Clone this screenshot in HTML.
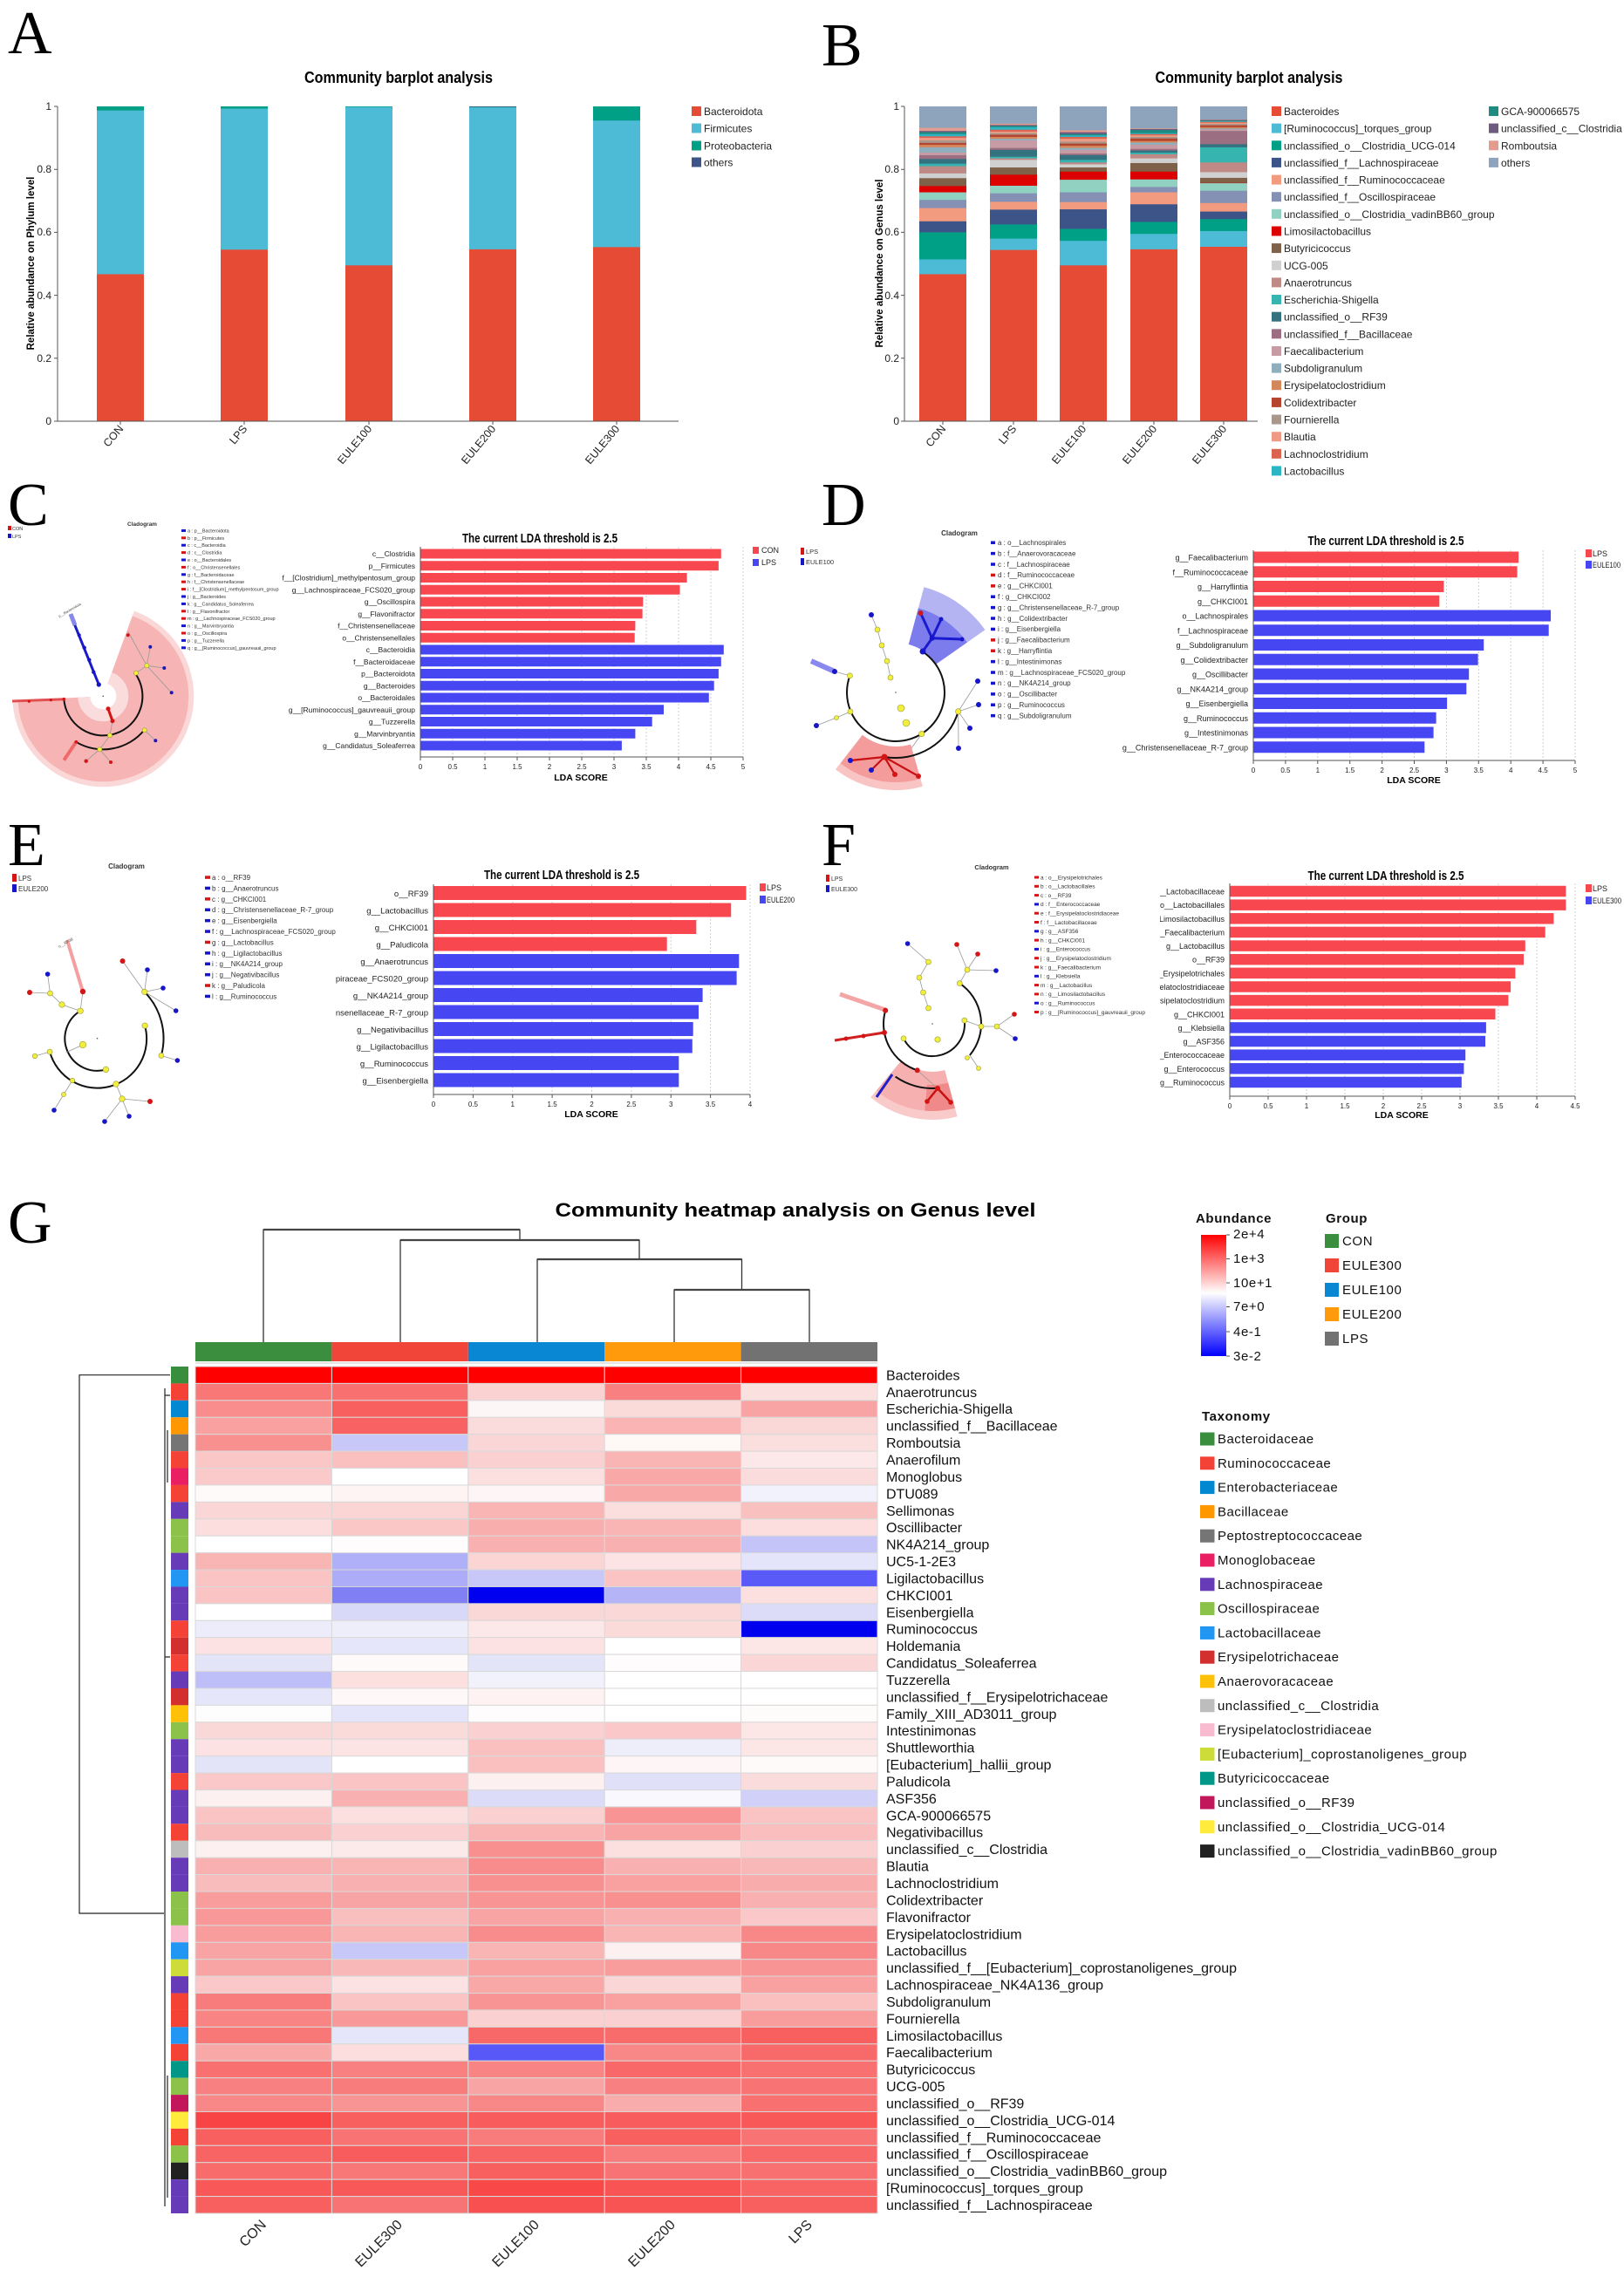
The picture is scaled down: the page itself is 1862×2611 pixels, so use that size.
<!DOCTYPE html>
<html><head><meta charset="utf-8">
<style>
html,body{margin:0;padding:0;background:#fff;}
svg{display:block;}
.n{font-family:"Liberation Sans Narrow","Liberation Sans",Arial,sans-serif;}
.a{font-family:"Liberation Sans",Arial,sans-serif;}
.t{font-family:"Liberation Serif","Times New Roman",serif;}
.c{stroke:#d9d9d9;stroke-width:1;}
.gl{stroke:#cfcfcf;stroke-width:1;stroke-dasharray:2,2;}
.ax{stroke:#555;stroke-width:1;fill:none;}
.ln{stroke:#999;stroke-width:0.8;fill:none;}
.arc{stroke:#111;stroke-width:2;fill:none;}
.yn{fill:#F2EE3C;stroke:#9a9a40;stroke-width:0.6;}
.rn{fill:#D41515;}
.bn{fill:#1616C8;}
.R{fill:#F94750;}
.B{fill:#4646F2;}
</style></head>
<body>
<svg width="1862" height="2611" viewBox="0 0 1862 2611" xmlns="http://www.w3.org/2000/svg">
<rect width="1862" height="2611" fill="#fff"/>

<!-- ===================== Panel labels ===================== -->
<g class="t" font-size="70" fill="#000">
<text x="9" y="61">A</text>
<text x="942" y="75">B</text>
<text x="9" y="602">C</text>
<text x="942" y="602">D</text>
<text x="9" y="992">E</text>
<text x="942" y="992">F</text>
<text x="9" y="1425">G</text>
</g>

<!-- ===================== Panel A ===================== -->
<text x="457" y="95" text-anchor="middle" class="n" font-weight="bold" font-size="18" textLength="216" lengthAdjust="spacingAndGlyphs">Community barplot analysis</text>
<text transform="translate(39,302) rotate(-90)" text-anchor="middle" class="a" font-weight="bold" font-size="11.5">Relative abundance on Phylum level</text>
<g>
<g transform="translate(111,483) scale(1,-361)"><rect width="54" height="1" fill="#00A087"/><rect width="54" height="0.987" fill="#4DBBD5"/><rect width="54" height="0.467" fill="#E64B35"/></g>
<g transform="translate(253,483) scale(1,-361)"><rect width="54" height="1" fill="#00A087"/><rect width="54" height="0.993" fill="#4DBBD5"/><rect width="54" height="0.545" fill="#E64B35"/></g>
<g transform="translate(396,483) scale(1,-361)"><rect width="54" height="1" fill="#00A087"/><rect width="54" height="0.998" fill="#4DBBD5"/><rect width="54" height="0.495" fill="#E64B35"/></g>
<g transform="translate(538,483) scale(1,-361)"><rect width="54" height="1" fill="#3C5488"/><rect width="54" height="0.998" fill="#00A087"/><rect width="54" height="0.997" fill="#4DBBD5"/><rect width="54" height="0.546" fill="#E64B35"/></g>
<g transform="translate(680,483) scale(1,-361)"><rect width="54" height="1" fill="#00A087"/><rect width="54" height="0.955" fill="#4DBBD5"/><rect width="54" height="0.553" fill="#E64B35"/></g>
</g>
<path class="ax" d="M66,122 V483 M63,483 H778"/>
<path class="ax" d="M62,122H66M62,194.2H66M62,266.4H66M62,338.6H66M62,410.8H66M62,483H66 M138,483V487M280,483V487M423,483V487M565,483V487M707,483V487"/>
<g class="n" font-size="12" fill="#222" text-anchor="end">
<text x="59" y="126">1</text><text x="59" y="198">0.8</text><text x="59" y="270">0.6</text><text x="59" y="343">0.4</text><text x="59" y="415">0.2</text><text x="59" y="487">0</text>
</g>
<g class="n" font-size="12.5" fill="#222" text-anchor="end">
<text transform="translate(142,492) rotate(-50)">CON</text>
<text transform="translate(284,492) rotate(-50)">LPS</text>
<text transform="translate(427,492) rotate(-50)">EULE100</text>
<text transform="translate(569,492) rotate(-50)">EULE200</text>
<text transform="translate(711,492) rotate(-50)">EULE300</text>
</g>
<g class="n" font-size="12" fill="#222">
<rect x="793" y="122" width="11" height="11" fill="#E64B35"/><text x="807" y="132">Bacteroidota</text>
<rect x="793" y="141.5" width="11" height="11" fill="#4DBBD5"/><text x="807" y="151.5">Firmicutes</text>
<rect x="793" y="161.5" width="11" height="11" fill="#00A087"/><text x="807" y="171.5">Proteobacteria</text>
<rect x="793" y="180.5" width="11" height="11" fill="#3C5488"/><text x="807" y="190.5">others</text>
</g>

<!-- ===================== Panel B ===================== -->
<text x="1432" y="95" text-anchor="middle" class="n" font-weight="bold" font-size="18" textLength="215" lengthAdjust="spacingAndGlyphs">Community barplot analysis</text>
<text transform="translate(1012,302) rotate(-90)" text-anchor="middle" class="a" font-weight="bold" font-size="11.5">Relative abundance on Genus level</text>
<g transform="translate(1054,483) scale(1,-361)">
<rect width="54" height="1" fill="#8EA3BC"/><rect width="54" height="0.932" fill="#E49C8E"/><rect width="54" height="0.922" fill="#6E5C80"/><rect width="54" height="0.918" fill="#1E8C80"/><rect width="54" height="0.912" fill="#2BB5C4"/><rect width="54" height="0.905" fill="#DA6450"/><rect width="54" height="0.900" fill="#EE9A85"/><rect width="54" height="0.892" fill="#A8978A"/><rect width="54" height="0.884" fill="#B5452E"/><rect width="54" height="0.878" fill="#D4875A"/><rect width="54" height="0.870" fill="#8FAFBE"/><rect width="54" height="0.853" fill="#C79BA4"/><rect width="54" height="0.845" fill="#9B6E82"/><rect width="54" height="0.833" fill="#35727F"/><rect width="54" height="0.818" fill="#36B4B0"/><rect width="54" height="0.810" fill="#BF8A86"/><rect width="54" height="0.787" fill="#D0D0D0"/><rect width="54" height="0.772" fill="#7E6148"/><rect width="54" height="0.747" fill="#DC0000"/><rect width="54" height="0.727" fill="#91D1C2"/><rect width="54" height="0.703" fill="#8491B4"/><rect width="54" height="0.677" fill="#F39B7F"/><rect width="54" height="0.635" fill="#3C5488"/><rect width="54" height="0.600" fill="#00A087"/><rect width="54" height="0.514" fill="#4DBBD5"/><rect width="54" height="0.467" fill="#E64B35"/>
</g>
<g transform="translate(1135,483) scale(1,-361)">
<rect width="54" height="1" fill="#8EA3BC"/><rect width="54" height="0.945" fill="#E49C8E"/><rect width="54" height="0.941" fill="#6E5C80"/><rect width="54" height="0.938" fill="#1E8C80"/><rect width="54" height="0.934" fill="#2BB5C4"/><rect width="54" height="0.926" fill="#DA6450"/><rect width="54" height="0.920" fill="#EE9A85"/><rect width="54" height="0.915" fill="#A8978A"/><rect width="54" height="0.910" fill="#B5452E"/><rect width="54" height="0.903" fill="#D4875A"/><rect width="54" height="0.897" fill="#8FAFBE"/><rect width="54" height="0.892" fill="#C79BA4"/><rect width="54" height="0.868" fill="#9B6E82"/><rect width="54" height="0.862" fill="#35727F"/><rect width="54" height="0.840" fill="#36B4B0"/><rect width="54" height="0.835" fill="#BF8A86"/><rect width="54" height="0.830" fill="#D0D0D0"/><rect width="54" height="0.806" fill="#7E6148"/><rect width="54" height="0.783" fill="#DC0000"/><rect width="54" height="0.748" fill="#91D1C2"/><rect width="54" height="0.724" fill="#8491B4"/><rect width="54" height="0.697" fill="#F39B7F"/><rect width="54" height="0.672" fill="#3C5488"/><rect width="54" height="0.625" fill="#00A087"/><rect width="54" height="0.580" fill="#4DBBD5"/><rect width="54" height="0.544" fill="#E64B35"/>
</g>
<g transform="translate(1215,483) scale(1,-361)">
<rect width="54" height="1" fill="#8EA3BC"/><rect width="54" height="0.924" fill="#E49C8E"/><rect width="54" height="0.918" fill="#6E5C80"/><rect width="54" height="0.912" fill="#1E8C80"/><rect width="54" height="0.908" fill="#2BB5C4"/><rect width="54" height="0.903" fill="#DA6450"/><rect width="54" height="0.897" fill="#EE9A85"/><rect width="54" height="0.888" fill="#A8978A"/><rect width="54" height="0.882" fill="#B5452E"/><rect width="54" height="0.875" fill="#D4875A"/><rect width="54" height="0.868" fill="#8FAFBE"/><rect width="54" height="0.862" fill="#C79BA4"/><rect width="54" height="0.850" fill="#9B6E82"/><rect width="54" height="0.845" fill="#35727F"/><rect width="54" height="0.830" fill="#36B4B0"/><rect width="54" height="0.822" fill="#BF8A86"/><rect width="54" height="0.816" fill="#D0D0D0"/><rect width="54" height="0.806" fill="#7E6148"/><rect width="54" height="0.793" fill="#DC0000"/><rect width="54" height="0.767" fill="#91D1C2"/><rect width="54" height="0.727" fill="#8491B4"/><rect width="54" height="0.696" fill="#F39B7F"/><rect width="54" height="0.673" fill="#3C5488"/><rect width="54" height="0.611" fill="#00A087"/><rect width="54" height="0.573" fill="#4DBBD5"/><rect width="54" height="0.495" fill="#E64B35"/>
</g>
<g transform="translate(1296,483) scale(1,-361)">
<rect width="54" height="1" fill="#8EA3BC"/><rect width="54" height="0.930" fill="#E49C8E"/><rect width="54" height="0.928" fill="#6E5C80"/><rect width="54" height="0.925" fill="#1E8C80"/><rect width="54" height="0.915" fill="#2BB5C4"/><rect width="54" height="0.912" fill="#DA6450"/><rect width="54" height="0.908" fill="#EE9A85"/><rect width="54" height="0.903" fill="#A8978A"/><rect width="54" height="0.898" fill="#B5452E"/><rect width="54" height="0.890" fill="#D4875A"/><rect width="54" height="0.885" fill="#8FAFBE"/><rect width="54" height="0.878" fill="#C79BA4"/><rect width="54" height="0.865" fill="#9B6E82"/><rect width="54" height="0.860" fill="#35727F"/><rect width="54" height="0.853" fill="#36B4B0"/><rect width="54" height="0.848" fill="#BF8A86"/><rect width="54" height="0.835" fill="#D0D0D0"/><rect width="54" height="0.820" fill="#7E6148"/><rect width="54" height="0.793" fill="#DC0000"/><rect width="54" height="0.768" fill="#91D1C2"/><rect width="54" height="0.744" fill="#8491B4"/><rect width="54" height="0.727" fill="#F39B7F"/><rect width="54" height="0.689" fill="#3C5488"/><rect width="54" height="0.633" fill="#00A087"/><rect width="54" height="0.595" fill="#4DBBD5"/><rect width="54" height="0.546" fill="#E64B35"/>
</g>
<g transform="translate(1376,483) scale(1,-361)">
<rect width="54" height="1" fill="#8EA3BC"/><rect width="54" height="0.958" fill="#E49C8E"/><rect width="54" height="0.957" fill="#6E5C80"/><rect width="54" height="0.955" fill="#1E8C80"/><rect width="54" height="0.953" fill="#2BB5C4"/><rect width="54" height="0.951" fill="#DA6450"/><rect width="54" height="0.948" fill="#EE9A85"/><rect width="54" height="0.944" fill="#A8978A"/><rect width="54" height="0.940" fill="#B5452E"/><rect width="54" height="0.934" fill="#D4875A"/><rect width="54" height="0.930" fill="#8FAFBE"/><rect width="54" height="0.927" fill="#C79BA4"/><rect width="54" height="0.922" fill="#9B6E82"/><rect width="54" height="0.880" fill="#35727F"/><rect width="54" height="0.870" fill="#36B4B0"/><rect width="54" height="0.822" fill="#BF8A86"/><rect width="54" height="0.791" fill="#D0D0D0"/><rect width="54" height="0.773" fill="#7E6148"/><rect width="54" height="0.757" fill="#DC0000"/><rect width="54" height="0.756" fill="#91D1C2"/><rect width="54" height="0.732" fill="#8491B4"/><rect width="54" height="0.693" fill="#F39B7F"/><rect width="54" height="0.666" fill="#3C5488"/><rect width="54" height="0.642" fill="#00A087"/><rect width="54" height="0.604" fill="#4DBBD5"/><rect width="54" height="0.554" fill="#E64B35"/>
</g>
<path class="ax" d="M1037,122 V483 M1034,483 H1442"/>
<path class="ax" d="M1033,122H1037M1033,194.2H1037M1033,266.4H1037M1033,338.6H1037M1033,410.8H1037M1033,483H1037 M1081,483V487M1162,483V487M1242,483V487M1323,483V487M1403,483V487"/>
<g class="n" font-size="12" fill="#222" text-anchor="end">
<text x="1031" y="126">1</text><text x="1031" y="198">0.8</text><text x="1031" y="270">0.6</text><text x="1031" y="343">0.4</text><text x="1031" y="415">0.2</text><text x="1031" y="487">0</text>
</g>
<g class="n" font-size="12.5" fill="#222" text-anchor="end">
<text transform="translate(1085,492) rotate(-50)">CON</text>
<text transform="translate(1166,492) rotate(-50)">LPS</text>
<text transform="translate(1246,492) rotate(-50)">EULE100</text>
<text transform="translate(1327,492) rotate(-50)">EULE200</text>
<text transform="translate(1407,492) rotate(-50)">EULE300</text>
</g>
<g class="n" font-size="12" fill="#222">
<rect x="1458" y="122" width="11" height="11" fill="#E64B35"/><text x="1472" y="132">Bacteroides</text>
<rect x="1458" y="141.6" width="11" height="11" fill="#4DBBD5"/><text x="1472" y="151.6">[Ruminococcus]_torques_group</text>
<rect x="1458" y="161.3" width="11" height="11" fill="#00A087"/><text x="1472" y="171.3">unclassified_o__Clostridia_UCG-014</text>
<rect x="1458" y="180.9" width="11" height="11" fill="#3C5488"/><text x="1472" y="190.9">unclassified_f__Lachnospiraceae</text>
<rect x="1458" y="200.6" width="11" height="11" fill="#F39B7F"/><text x="1472" y="210.6">unclassified_f__Ruminococcaceae</text>
<rect x="1458" y="220.2" width="11" height="11" fill="#8491B4"/><text x="1472" y="230.2">unclassified_f__Oscillospiraceae</text>
<rect x="1458" y="239.8" width="11" height="11" fill="#91D1C2"/><text x="1472" y="249.8">unclassified_o__Clostridia_vadinBB60_group</text>
<rect x="1458" y="259.5" width="11" height="11" fill="#DC0000"/><text x="1472" y="269.5">Limosilactobacillus</text>
<rect x="1458" y="279.1" width="11" height="11" fill="#7E6148"/><text x="1472" y="289.1">Butyricicoccus</text>
<rect x="1458" y="298.8" width="11" height="11" fill="#D0D0D0"/><text x="1472" y="308.8">UCG-005</text>
<rect x="1458" y="318.4" width="11" height="11" fill="#BF8A86"/><text x="1472" y="328.4">Anaerotruncus</text>
<rect x="1458" y="338" width="11" height="11" fill="#36B4B0"/><text x="1472" y="348">Escherichia-Shigella</text>
<rect x="1458" y="357.7" width="11" height="11" fill="#35727F"/><text x="1472" y="367.7">unclassified_o__RF39</text>
<rect x="1458" y="377.3" width="11" height="11" fill="#9B6E82"/><text x="1472" y="387.3">unclassified_f__Bacillaceae</text>
<rect x="1458" y="397" width="11" height="11" fill="#C79BA4"/><text x="1472" y="407">Faecalibacterium</text>
<rect x="1458" y="416.6" width="11" height="11" fill="#8FAFBE"/><text x="1472" y="426.6">Subdoligranulum</text>
<rect x="1458" y="436.2" width="11" height="11" fill="#D4875A"/><text x="1472" y="446.2">Erysipelatoclostridium</text>
<rect x="1458" y="455.9" width="11" height="11" fill="#B5452E"/><text x="1472" y="465.9">Colidextribacter</text>
<rect x="1458" y="475.5" width="11" height="11" fill="#A8978A"/><text x="1472" y="485.5">Fournierella</text>
<rect x="1458" y="495.2" width="11" height="11" fill="#EE9A85"/><text x="1472" y="505.2">Blautia</text>
<rect x="1458" y="514.8" width="11" height="11" fill="#DA6450"/><text x="1472" y="524.8">Lachnoclostridium</text>
<rect x="1458" y="534.4" width="11" height="11" fill="#2BB5C4"/><text x="1472" y="544.4">Lactobacillus</text>
<rect x="1707" y="122" width="11" height="11" fill="#1E8C80"/><text x="1721" y="132">GCA-900066575</text>
<rect x="1707" y="141.6" width="11" height="11" fill="#6E5C80"/><text x="1721" y="151.6">unclassified_c__Clostridia</text>
<rect x="1707" y="161.3" width="11" height="11" fill="#E49C8E"/><text x="1721" y="171.3">Romboutsia</text>
<rect x="1707" y="180.9" width="11" height="11" fill="#8EA3BC"/><text x="1721" y="190.9">others</text>
</g>

<!-- ===================== Panel C cladogram ===================== -->
<g class="n" font-size="5.5" fill="#333">
<rect x="9" y="603" width="4" height="5" fill="#D41515"/><text x="14" y="608">CON</text>
<rect x="9" y="612" width="4" height="5" fill="#1616C8"/><text x="14" y="617">LPS</text>
<text x="163" y="603" text-anchor="middle" font-weight="bold" font-size="6.5">Cladogram</text>
</g>
<g class="n" font-size="5.5" fill="#333">
<rect x="208" y="607" width="5" height="3" class="bn"/><text x="215" y="610.4">a : p__Bacteroidota</text>
<rect x="208" y="615.3" width="5" height="3" class="rn"/><text x="215" y="618.8">b : p__Firmicutes</text>
<rect x="208" y="623.7" width="5" height="3" class="bn"/><text x="215" y="627.2">c : c__Bacteroidia</text>
<rect x="208" y="632.1" width="5" height="3" class="rn"/><text x="215" y="635.6">d : c__Clostridia</text>
<rect x="208" y="640.5" width="5" height="3" class="bn"/><text x="215" y="644">e : o__Bacteroidales</text>
<rect x="208" y="648.9" width="5" height="3" class="rn"/><text x="215" y="652.4">f : o__Christensenellales</text>
<rect x="208" y="657.3" width="5" height="3" class="bn"/><text x="215" y="660.8">g : f__Bacteroidaceae</text>
<rect x="208" y="665.7" width="5" height="3" class="rn"/><text x="215" y="669.2">h : f__Christensenellaceae</text>
<rect x="208" y="674.1" width="5" height="3" class="rn"/><text x="215" y="677.6">i : f__[Clostridium]_methylpentosum_group</text>
<rect x="208" y="682.5" width="5" height="3" class="bn"/><text x="215" y="686">j : g__Bacteroides</text>
<rect x="208" y="690.9" width="5" height="3" class="bn"/><text x="215" y="694.4">k : g__Candidatus_Soleaferrea</text>
<rect x="208" y="699.3" width="5" height="3" class="rn"/><text x="215" y="702.8">l : g__Flavonifractor</text>
<rect x="208" y="707.7" width="5" height="3" class="rn"/><text x="215" y="711.2">m : g__Lachnospiraceae_FCS020_group</text>
<rect x="208" y="716.1" width="5" height="3" class="bn"/><text x="215" y="719.6">n : g__Marvinbryantia</text>
<rect x="208" y="724.5" width="5" height="3" class="rn"/><text x="215" y="728">o : g__Oscillospira</text>
<rect x="208" y="732.9" width="5" height="3" class="bn"/><text x="215" y="736.4">p : g__Tuzzerella</text>
<rect x="208" y="741.3" width="5" height="3" class="bn"/><text x="215" y="744.8">q : g__[Ruminococcus]_gauvreauii_group</text>
</g>
<g>
<path d="M118.3,798.3 L153.9,700.6 A104,104 0 1 1 14.4,803.7 Z" fill="#FAD8D8"/>
<path d="M118.3,798.3 L151.8,706.2 A98,98 0 1 1 20.4,803.4 Z" fill="#F7B4B4"/>
<path d="M118.3,798.3 L128.2,771.0 A29,29 0 1 1 89.3,799.8 Z" fill="#FBDCDC"/>
<circle cx="118.3" cy="798.3" r="15" fill="#fff"/>
<path d="M73.3,801.7 L14,804" stroke="#E05050" stroke-width="3"/>
<path d="M113.3,785 L81.7,706.7" stroke="#1A1AC8" stroke-width="3"/>
<path d="M86,717 L81,704" stroke="#8888E8" stroke-width="5"/>
<path class="arc" d="M155.2,772.4 A45.1,45.1 0 1 1 73.3,801.4"/>
<path class="arc" d="M165.4,837.1 A61,61 0 0 1 87.2,850.8"/>
<path class="ln" d="M129,826.7L126,843.3L114.3,859.3L98.7,872.7M114.3,859.3L127,874M156,771.7L168.3,763.3L146.7,724M168.3,763.3L172.3,741.7M168.3,763.3L188.3,766M168.3,763.3L196.7,794.3M165.7,837.3L178.3,849.3"/>
<path d="M124,812.7L129,826.7" stroke="#D41515" stroke-width="3"/>
<path d="M87.3,850.7L73.3,871.7" stroke="#F06868" stroke-width="4"/>
<g class="yn"><circle cx="126" cy="843.3" r="2.6"/><circle cx="156" cy="771.7" r="2.6"/><circle cx="168.3" cy="763.3" r="2.6"/><circle cx="114.3" cy="859.3" r="2.6"/><circle cx="165.7" cy="837.3" r="2.6"/></g>
<g class="rn"><circle cx="124" cy="812.7" r="2.5"/><circle cx="129" cy="826.7" r="2.5"/><circle cx="146.7" cy="728.3" r="2"/><circle cx="98.7" cy="872.7" r="2.2"/><circle cx="127" cy="874" r="2"/><circle cx="73.3" cy="801.7" r="1.8"/><circle cx="58.3" cy="802.7" r="1.6"/><circle cx="33.3" cy="804.3" r="1.6"/><circle cx="87.3" cy="850.7" r="1.8"/></g>
<g class="bn"><circle cx="113.3" cy="785" r="2.6"/><circle cx="107.3" cy="770.7" r="2.2"/><circle cx="102.3" cy="756.7" r="2.2"/><circle cx="96.7" cy="742.7" r="2.2"/><circle cx="90.7" cy="728.3" r="2"/><circle cx="172.3" cy="741.7" r="2"/><circle cx="188.3" cy="766" r="2"/><circle cx="196.7" cy="794.3" r="2"/><circle cx="178.3" cy="849.3" r="2"/></g>
<circle cx="118.3" cy="798.3" r="0.8" fill="#555"/>
<text transform="translate(68,708) rotate(-30)" class="n" font-size="4" fill="#444">p__Bacteroidota</text>
</g>

<!-- ===================== Panel C LDA ===================== -->
<g transform="translate(482,635)">
<text x="137" y="-13" text-anchor="middle" class="n" font-weight="bold" font-size="15" textLength="178" lengthAdjust="spacingAndGlyphs">The current LDA threshold is 2.5</text>
<path class="gl" d="M37,-8V231M74,-8V231M111,-8V231M148,-8V231M185,-8V231M222,-8V231M259,-8V231M296,-8V231M333,-8V231M370,-8V231"/>
<rect class="R" y="-5.5" width="344.8" height="11"/>
<rect class="R" y="8.25" width="341.9" height="11"/>
<rect class="R" y="22" width="305.6" height="11"/>
<rect class="R" y="35.75" width="297.5" height="11"/>
<rect class="R" y="49.5" width="255.3" height="11"/>
<rect class="R" y="63.25" width="254.6" height="11"/>
<rect class="R" y="77" width="246.4" height="11"/>
<rect class="R" y="90.75" width="245.7" height="11"/>
<rect class="B" y="104.5" width="347.8" height="11"/>
<rect class="B" y="118.25" width="344.8" height="11"/>
<rect class="B" y="132" width="341.9" height="11"/>
<rect class="B" y="145.75" width="336.7" height="11"/>
<rect class="B" y="159.5" width="330.8" height="11"/>
<rect class="B" y="173.25" width="279" height="11"/>
<rect class="B" y="187" width="265.7" height="11"/>
<rect class="B" y="200.75" width="246.4" height="11"/>
<rect class="B" y="214.5" width="230.9" height="11"/>
<path class="ax" d="M0,-8V233H370 M0,233v4M37,233v4M74,233v4M111,233v4M148,233v4M185,233v4M222,233v4M259,233v4M296,233v4M333,233v4M370,233v4"/>
<g class="n" font-size="8.5" fill="#222" text-anchor="end">
<text x="-6" y="3">c__Clostridia</text>
<text x="-6" y="16.75">p__Firmicutes</text>
<text x="-6" y="30.5">f__[Clostridium]_methylpentosum_group</text>
<text x="-6" y="44.25">g__Lachnospiraceae_FCS020_group</text>
<text x="-6" y="58">g__Oscillospira</text>
<text x="-6" y="71.75">g__Flavonifractor</text>
<text x="-6" y="85.5">f__Christensenellaceae</text>
<text x="-6" y="99.25">o__Christensenellales</text>
<text x="-6" y="113">c__Bacteroidia</text>
<text x="-6" y="126.75">f__Bacteroidaceae</text>
<text x="-6" y="140.5">p__Bacteroidota</text>
<text x="-6" y="154.25">g__Bacteroides</text>
<text x="-6" y="168">o__Bacteroidales</text>
<text x="-6" y="181.75">g__[Ruminococcus]_gauvreauii_group</text>
<text x="-6" y="195.5">g__Tuzzerella</text>
<text x="-6" y="209.25">g__Marvinbryantia</text>
<text x="-6" y="223">g__Candidatus_Soleaferrea</text>
</g>
<g class="n" font-size="8" fill="#222" text-anchor="middle">
<text x="0" y="247">0</text><text x="37" y="247">0.5</text><text x="74" y="247">1</text><text x="111" y="247">1.5</text><text x="148" y="247">2</text><text x="185" y="247">2.5</text><text x="222" y="247">3</text><text x="259" y="247">3.5</text><text x="296" y="247">4</text><text x="333" y="247">4.5</text><text x="370" y="247">5</text>
</g>
<text x="184" y="260" text-anchor="middle" class="n" font-weight="bold" font-size="10.5">LDA SCORE</text>
<rect x="381" y="-8" width="7" height="8" class="R"/><text x="391" y="-1" class="n" font-size="9" fill="#222">CON</text>
<rect x="381" y="6" width="7" height="8" class="B"/><text x="391" y="13" class="n" font-size="9" fill="#222">LPS</text>
</g>

<!-- ===================== Panel D cladogram ===================== -->
<g class="n" font-size="7.5" fill="#333">
<rect x="918" y="628" width="4" height="8" fill="#D41515"/><text x="924" y="635">LPS</text>
<rect x="918" y="640" width="4" height="8" fill="#1616C8"/><text x="924" y="647">EULE100</text>
<text x="1100" y="614" text-anchor="middle" font-weight="bold" font-size="8">Cladogram</text>
</g>
<g class="n" font-size="8" fill="#333">
<rect x="1136" y="620.5" width="5" height="3.5" class="bn"/><text x="1144" y="625">a : o__Lachnospirales</text>
<rect x="1136" y="632.9" width="5" height="3.5" class="bn"/><text x="1144" y="637.4">b : f__Anaerovoracaceae</text>
<rect x="1136" y="645.3" width="5" height="3.5" class="bn"/><text x="1144" y="649.8">c : f__Lachnospiraceae</text>
<rect x="1136" y="657.7" width="5" height="3.5" class="rn"/><text x="1144" y="662.2">d : f__Ruminococcaceae</text>
<rect x="1136" y="670.1" width="5" height="3.5" class="rn"/><text x="1144" y="674.6">e : g__CHKCI001</text>
<rect x="1136" y="682.5" width="5" height="3.5" class="bn"/><text x="1144" y="687">f : g__CHKCI002</text>
<rect x="1136" y="694.9" width="5" height="3.5" class="bn"/><text x="1144" y="699.4">g : g__Christensenellaceae_R-7_group</text>
<rect x="1136" y="707.3" width="5" height="3.5" class="bn"/><text x="1144" y="711.8">h : g__Colidextribacter</text>
<rect x="1136" y="719.7" width="5" height="3.5" class="bn"/><text x="1144" y="724.2">i : g__Eisenbergiella</text>
<rect x="1136" y="732.1" width="5" height="3.5" class="rn"/><text x="1144" y="736.6">j : g__Faecalibacterium</text>
<rect x="1136" y="744.5" width="5" height="3.5" class="rn"/><text x="1144" y="749">k : g__Harryflintia</text>
<rect x="1136" y="756.9" width="5" height="3.5" class="bn"/><text x="1144" y="761.4">l : g__Intestinimonas</text>
<rect x="1136" y="769.3" width="5" height="3.5" class="bn"/><text x="1144" y="773.8">m : g__Lachnospiraceae_FCS020_group</text>
<rect x="1136" y="781.7" width="5" height="3.5" class="bn"/><text x="1144" y="786.2">n : g__NK4A214_group</text>
<rect x="1136" y="794.1" width="5" height="3.5" class="bn"/><text x="1144" y="798.6">o : g__Oscillibacter</text>
<rect x="1136" y="806.5" width="5" height="3.5" class="bn"/><text x="1144" y="811">p : g__Ruminococcus</text>
<rect x="1136" y="818.9" width="5" height="3.5" class="bn"/><text x="1144" y="823.4">q : g__Subdoligranulum</text>
</g>
<g>
<path d="M1059.4,673.3 A125,125 0 0 1 1129.4,722.3 L1073.7,761.3 A57,57 0 0 0 1041.8,738.9 Z" fill="#B4B4F2"/>
<path d="M1052.9,697.4 A100,100 0 0 1 1108.9,736.6 L1073.7,761.3 A57,57 0 0 0 1041.8,738.9 Z" fill="#7C7CEC"/>
<path d="M1057.9,901.7 A112,112 0 0 1 958.0,882.3 L988.8,842.9 A62,62 0 0 0 1044.1,853.6 Z" fill="#F8C4C4"/>
<path d="M1055.4,893.0 A103,103 0 0 1 963.6,875.2 L988.8,842.9 A62,62 0 0 0 1044.1,853.6 Z" fill="#F49C9C"/>
<path d="M957,770 L930,758" stroke="#8888EE" stroke-width="6"/>
<path class="arc" d="M1057.5,747.0 A56,56 0 1 1 974.4,774.8"/>
<path class="arc" d="M1098.7,815.9 A75,75 0 0 1 1014.0,867.9"/>
<path d="M1058,747 L1068.7,731.7 L1055.5,703 M1068.7,731.7 L1079,710 M1068.7,731.7 L1103,733" stroke="#1A1AD0" stroke-width="3" fill="none"/>
<path d="M1014,868 L975,872 M1014,868 L999,883 M1014,868 L1026,888 M1014,868 L1053,890" stroke="#C81010" stroke-width="2.2" fill="none"/>
<path class="ln" d="M974.4,774.8 L957,770 M975,816 L959,823 L936,832 M999,705 L1006,722 L1011,740 L1017,758 L1021,777 M1098.7,815.9 L1121,781 M1098.7,815.9 L1122,808 M1098.7,815.9 L1112,835 M1098.7,815.9 L1099,858 M1056.7,841.5 L1045,858"/>
<g class="yn"><circle cx="974.4" cy="774.8" r="3"/><circle cx="975" cy="816" r="3"/><circle cx="959" cy="823" r="2.5"/><circle cx="1006" cy="722" r="3"/><circle cx="1011" cy="740" r="3"/><circle cx="1017" cy="758" r="3"/><circle cx="1021" cy="777" r="3"/><circle cx="1033" cy="812" r="4"/><circle cx="1039" cy="829" r="4"/><circle cx="1098.7" cy="815.9" r="3.2"/><circle cx="1056.7" cy="841.5" r="3.2"/></g>
<g class="bn"><circle cx="957" cy="770" r="3"/><circle cx="936" cy="832" r="3"/><circle cx="999" cy="705" r="3"/><circle cx="1058" cy="747" r="3.5"/><circle cx="1068.7" cy="731.7" r="3"/><circle cx="1079" cy="710" r="2.5"/><circle cx="1103" cy="733" r="2.5"/><circle cx="1121" cy="781" r="3"/><circle cx="1122" cy="808" r="3"/><circle cx="1112" cy="835" r="3"/><circle cx="1099" cy="858" r="3"/><circle cx="975" cy="872" r="3"/><circle cx="999" cy="883" r="3"/></g>
<g class="rn"><circle cx="1055.5" cy="703" r="3"/><circle cx="1014" cy="868" r="3.5"/><circle cx="1026" cy="888" r="3"/><circle cx="1053" cy="890" r="3"/></g>
<circle cx="1027" cy="794" r="0.8" fill="#555"/>
</g>

<!-- ===================== Panel D LDA ===================== -->
<g transform="translate(1437,639)">
<text x="152" y="-14" text-anchor="middle" class="n" font-weight="bold" font-size="15" textLength="179" lengthAdjust="spacingAndGlyphs">The current LDA threshold is 2.5</text>
<path class="gl" d="M36.9,-8V231M73.8,-8V231M110.7,-8V231M147.6,-8V231M184.5,-8V231M221.4,-8V231M258.3,-8V231M295.2,-8V231M332.1,-8V231M369,-8V231"/>
<rect class="R" y="-6.5" width="304.1" height="13"/>
<rect class="R" y="10.25" width="302.6" height="13"/>
<rect class="R" y="27" width="218.4" height="13"/>
<rect class="R" y="43.75" width="213.3" height="13"/>
<rect class="B" y="60.5" width="341" height="13"/>
<rect class="B" y="77.25" width="338.7" height="13"/>
<rect class="B" y="94" width="264.2" height="13"/>
<rect class="B" y="110.75" width="257.6" height="13"/>
<rect class="B" y="127.5" width="247.2" height="13"/>
<rect class="B" y="144.25" width="244.3" height="13"/>
<rect class="B" y="161" width="222.1" height="13"/>
<rect class="B" y="177.75" width="209.6" height="13"/>
<rect class="B" y="194.5" width="206.6" height="13"/>
<rect class="B" y="211.25" width="196.3" height="13"/>
<path class="ax" d="M0,-8V233H369 M0,233v4M36.9,233v4M73.8,233v4M110.7,233v4M147.6,233v4M184.5,233v4M221.4,233v4M258.3,233v4M295.2,233v4M332.1,233v4M369,233v4"/>
<g class="n" font-size="9" fill="#222" text-anchor="end">
<text x="-6" y="3.5">g__Faecalibacterium</text>
<text x="-6" y="20.25">f__Ruminococcaceae</text>
<text x="-6" y="37">g__Harryflintia</text>
<text x="-6" y="53.75">g__CHKCI001</text>
<text x="-6" y="70.5">o__Lachnospirales</text>
<text x="-6" y="87.25">f__Lachnospiraceae</text>
<text x="-6" y="104">g__Subdoligranulum</text>
<text x="-6" y="120.75">g__Colidextribacter</text>
<text x="-6" y="137.5">g__Oscillibacter</text>
<text x="-6" y="154.25">g__NK4A214_group</text>
<text x="-6" y="171">g__Eisenbergiella</text>
<text x="-6" y="187.75">g__Ruminococcus</text>
<text x="-6" y="204.5">g__Intestinimonas</text>
<text x="-6" y="221.25">g__Christensenellaceae_R-7_group</text>
</g>
<g class="n" font-size="8" fill="#222" text-anchor="middle">
<text x="0" y="247">0</text><text x="36.9" y="247">0.5</text><text x="73.8" y="247">1</text><text x="110.7" y="247">1.5</text><text x="147.6" y="247">2</text><text x="184.5" y="247">2.5</text><text x="221.4" y="247">3</text><text x="258.3" y="247">3.5</text><text x="295.2" y="247">4</text><text x="332.1" y="247">4.5</text><text x="369" y="247">5</text>
</g>
<text x="184" y="259" text-anchor="middle" class="n" font-weight="bold" font-size="10.5">LDA SCORE</text>
<rect x="381" y="-9" width="7" height="9" class="R"/><text x="389" y="-1" class="n" font-size="9" fill="#222">LPS</text>
<rect x="381" y="4" width="7" height="9" class="B"/><text x="389" y="12" class="n" font-size="9" fill="#222" textLength="32" lengthAdjust="spacingAndGlyphs">EULE100</text>
</g>

<!-- ===================== Panel E cladogram ===================== -->
<g class="n" font-size="8" fill="#333">
<rect x="14" y="1002" width="5" height="9" fill="#D41515"/><text x="21" y="1010">LPS</text>
<rect x="14" y="1014" width="5" height="9" fill="#1616C8"/><text x="21" y="1022">EULE200</text>
<text x="145" y="996" text-anchor="middle" font-weight="bold" font-size="8">Cladogram</text>
</g>
<g class="n" font-size="8" fill="#333">
<rect x="235" y="1004.3" width="6" height="3.5" class="rn"/><text x="243" y="1009">a : o__RF39</text>
<rect x="235" y="1016.7" width="6" height="3.5" class="bn"/><text x="243" y="1021.4">b : g__Anaerotruncus</text>
<rect x="235" y="1029.1" width="6" height="3.5" class="rn"/><text x="243" y="1033.8">c : g__CHKCI001</text>
<rect x="235" y="1041.5" width="6" height="3.5" class="bn"/><text x="243" y="1046.2">d : g__Christensenellaceae_R-7_group</text>
<rect x="235" y="1053.9" width="6" height="3.5" class="bn"/><text x="243" y="1058.6">e : g__Eisenbergiella</text>
<rect x="235" y="1066.3" width="6" height="3.5" class="bn"/><text x="243" y="1071">f : g__Lachnospiraceae_FCS020_group</text>
<rect x="235" y="1078.7" width="6" height="3.5" class="rn"/><text x="243" y="1083.4">g : g__Lactobacillus</text>
<rect x="235" y="1091.1" width="6" height="3.5" class="bn"/><text x="243" y="1095.8">h : g__Ligilactobacillus</text>
<rect x="235" y="1103.5" width="6" height="3.5" class="bn"/><text x="243" y="1108.2">i : g__NK4A214_group</text>
<rect x="235" y="1115.9" width="6" height="3.5" class="bn"/><text x="243" y="1120.6">j : g__Negativibacillus</text>
<rect x="235" y="1128.3" width="6" height="3.5" class="rn"/><text x="243" y="1133">k : g__Paludicola</text>
<rect x="235" y="1140.7" width="6" height="3.5" class="bn"/><text x="243" y="1145.4">l : g__Ruminococcus</text>
</g>
<g>
<path d="M95,1137 L77,1078" stroke="#F4A0A0" stroke-width="4"/>
<text transform="translate(68,1087) rotate(-30)" class="n" font-size="4.5" fill="#444">o__RF39</text>
<path class="arc" d="M121.4,1226.4 A37,37 0 0 1 92.1,1159.2"/>
<path class="arc" d="M166.1,1176.1 A56.5,56.5 0 0 1 57.1,1206.1"/>
<path class="arc" d="M165.7,1137.4 A76,76 0 0 1 184.9,1210.4"/>
<path class="ln" d="M92.1,1159.2 L95,1137 M92.1,1159.2 L71,1152 L57.5,1139 L54.6,1117 M57.5,1139 L34,1138 M95,1198 L75.5,1207 M57.1,1206.1 L40,1211 M83,1239 L73,1255 L62,1273 M133,1243 L140,1260 L172,1263 M140,1260 L120,1286 M140,1260 L148,1280 M165.7,1137.4 L140.5,1102 M165.7,1137.4 L169,1112 M165.7,1137.4 L187,1133 M165.7,1137.4 L201.7,1159 M184.9,1210.4 L203.4,1216"/>
<g class="yn"><circle cx="92.1" cy="1159.2" r="3.3"/><circle cx="71" cy="1152" r="3.3"/><circle cx="57.5" cy="1139" r="3"/><circle cx="95" cy="1198" r="3.8"/><circle cx="57.1" cy="1206.1" r="3"/><circle cx="40" cy="1211" r="2.8"/><circle cx="121.4" cy="1226.4" r="3.3"/><circle cx="133" cy="1243" r="3.3"/><circle cx="83" cy="1239" r="2.8"/><circle cx="73" cy="1255" r="2.6"/><circle cx="140" cy="1260" r="3.3"/><circle cx="165.7" cy="1137.4" r="3.2"/><circle cx="166.1" cy="1176.1" r="3.2"/><circle cx="184.9" cy="1210.4" r="3"/></g>
<g class="rn"><circle cx="95" cy="1137" r="3.2"/><circle cx="34" cy="1138" r="3"/><circle cx="140.5" cy="1102" r="3"/><circle cx="172" cy="1263" r="3"/></g>
<g class="bn"><circle cx="54.6" cy="1117" r="2.8"/><circle cx="169" cy="1112" r="2.8"/><circle cx="187" cy="1133" r="2.8"/><circle cx="201.7" cy="1159" r="2.8"/><circle cx="203.4" cy="1216" r="2.8"/><circle cx="62" cy="1273" r="2.8"/><circle cx="120" cy="1286" r="2.8"/><circle cx="148" cy="1280" r="2.8"/></g>
<circle cx="111.5" cy="1190.7" r="0.8" fill="#555"/>
</g>

<!-- ===================== Panel E LDA ===================== -->
<clipPath id="clipE"><rect x="-112" y="-20" width="110" height="250"/></clipPath>
<g transform="translate(497,1024)">
<text x="147" y="-16" text-anchor="middle" class="n" font-weight="bold" font-size="15" textLength="178" lengthAdjust="spacingAndGlyphs">The current LDA threshold is 2.5</text>
<path class="gl" d="M45.4,-10V229M90.75,-10V229M136.1,-10V229M181.5,-10V229M226.9,-10V229M272.25,-10V229M317.6,-10V229M363,-10V229"/>
<rect class="R" y="-8" width="358.5" height="16"/>
<rect class="R" y="11.5" width="341.2" height="16"/>
<rect class="R" y="31" width="301.3" height="16"/>
<rect class="R" y="50.5" width="267.7" height="16"/>
<rect class="B" y="70" width="350.3" height="16"/>
<rect class="B" y="89.5" width="347.6" height="16"/>
<rect class="B" y="109" width="308.6" height="16"/>
<rect class="B" y="128.5" width="304" height="16"/>
<rect class="B" y="148" width="297.7" height="16"/>
<rect class="B" y="167.5" width="296.8" height="16"/>
<rect class="B" y="187" width="281.3" height="16"/>
<rect class="B" y="206.5" width="281.3" height="16"/>
<path class="ax" d="M0,-10V231H363 M0,231v4M45.4,231v4M90.75,231v4M136.1,231v4M181.5,231v4M226.9,231v4M272.25,231v4M317.6,231v4M363,231v4"/>
<g class="n" font-size="9.5" fill="#222" text-anchor="end" clip-path="url(#clipE)">
<text x="-6" y="4">o__RF39</text>
<text x="-6" y="23.5">g__Lactobacillus</text>
<text x="-6" y="43">g__CHKCI001</text>
<text x="-6" y="62.5">g__Paludicola</text>
<text x="-6" y="82">g__Anaerotruncus</text>
<text x="-6" y="101.5">g__Lachnospiraceae_FCS020_group</text>
<text x="-6" y="121">g__NK4A214_group</text>
<text x="-6" y="140.5">g__Christensenellaceae_R-7_group</text>
<text x="-6" y="160">g__Negativibacillus</text>
<text x="-6" y="179.5">g__Ligilactobacillus</text>
<text x="-6" y="199">g__Ruminococcus</text>
<text x="-6" y="218.5">g__Eisenbergiella</text>
</g>
<g class="n" font-size="8" fill="#222" text-anchor="middle">
<text x="0" y="245">0</text><text x="45.4" y="245">0.5</text><text x="90.75" y="245">1</text><text x="136.1" y="245">1.5</text><text x="181.5" y="245">2</text><text x="226.9" y="245">2.5</text><text x="272.25" y="245">3</text><text x="317.6" y="245">3.5</text><text x="363" y="245">4</text>
</g>
<text x="181" y="257" text-anchor="middle" class="n" font-weight="bold" font-size="10.5">LDA SCORE</text>
<rect x="374" y="-11" width="7" height="9" class="R"/><text x="382" y="-3" class="n" font-size="9" fill="#222">LPS</text>
<rect x="374" y="3" width="7" height="9" class="B"/><text x="382" y="11" class="n" font-size="9" fill="#222" textLength="32" lengthAdjust="spacingAndGlyphs">EULE200</text>
</g>

<!-- ===================== Panel F cladogram ===================== -->
<g class="n" font-size="7" fill="#333">
<rect x="947" y="1003" width="4" height="8" fill="#D41515"/><text x="953" y="1010">LPS</text>
<rect x="947" y="1015" width="4" height="8" fill="#1616C8"/><text x="953" y="1022">EULE300</text>
<text x="1137" y="997" text-anchor="middle" font-weight="bold" font-size="7.5">Cladogram</text>
</g>
<g class="n" font-size="6.5" fill="#333">
<rect x="1186" y="1004.5" width="5" height="3" class="rn"/><text x="1193" y="1008.3">a : o__Erysipelotrichales</text>
<rect x="1186" y="1014.8" width="5" height="3" class="rn"/><text x="1193" y="1018.6">b : o__Lactobacillales</text>
<rect x="1186" y="1025.1" width="5" height="3" class="rn"/><text x="1193" y="1028.9">c : o__RF39</text>
<rect x="1186" y="1035.4" width="5" height="3" class="bn"/><text x="1193" y="1039.2">d : f__Enterococcaceae</text>
<rect x="1186" y="1045.7" width="5" height="3" class="rn"/><text x="1193" y="1049.5">e : f__Erysipelatoclostridiaceae</text>
<rect x="1186" y="1056" width="5" height="3" class="rn"/><text x="1193" y="1059.8">f : f__Lactobacillaceae</text>
<rect x="1186" y="1066.3" width="5" height="3" class="bn"/><text x="1193" y="1070.1">g : g__ASF356</text>
<rect x="1186" y="1076.6" width="5" height="3" class="rn"/><text x="1193" y="1080.4">h : g__CHKCI001</text>
<rect x="1186" y="1086.9" width="5" height="3" class="bn"/><text x="1193" y="1090.7">i : g__Enterococcus</text>
<rect x="1186" y="1097.2" width="5" height="3" class="rn"/><text x="1193" y="1101">j : g__Erysipelatoclostridium</text>
<rect x="1186" y="1107.5" width="5" height="3" class="rn"/><text x="1193" y="1111.3">k : g__Faecalibacterium</text>
<rect x="1186" y="1117.8" width="5" height="3" class="bn"/><text x="1193" y="1121.6">l : g__Klebsiella</text>
<rect x="1186" y="1128.1" width="5" height="3" class="rn"/><text x="1193" y="1131.9">m : g__Lactobacillus</text>
<rect x="1186" y="1138.4" width="5" height="3" class="rn"/><text x="1193" y="1142.2">n : g__Limosilactobacillus</text>
<rect x="1186" y="1148.7" width="5" height="3" class="bn"/><text x="1193" y="1152.5">o : g__Ruminococcus</text>
<rect x="1186" y="1159" width="5" height="3" class="rn"/><text x="1193" y="1162.8">p : g__[Ruminococcus]_gauvreauii_group</text>
</g>
<g>
<path d="M1097.5,1280.2 A110,110 0 0 1 998.3,1258.3 L1033.6,1216.1 A55,55 0 0 0 1083.2,1227.1 Z" fill="#F9CACA"/>
<path d="M1094.9,1270.6 A100,100 0 0 1 1004.7,1250.6 L1033.6,1216.1 A55,55 0 0 0 1083.2,1227.1 Z" fill="#F6B0B0"/>
<path d="M1094.9,1270.6 A100,100 0 0 1 1060.3,1273.6 L1062.9,1243.7 A70,70 0 0 0 1087.1,1241.6 Z" fill="#F08A8A"/>
<path d="M1015,1158 L963,1140" stroke="#F4A5A5" stroke-width="5"/>
<path d="M1014,1184 L957,1193" stroke="#D02020" stroke-width="3"/>
<path d="M1023,1232 L1005,1258" stroke="#2020C8" stroke-width="3"/>
<path class="arc" d="M1051.7,1227.3 A56,56 0 0 1 1015.2,1158.6"/>
<path class="arc" d="M1105.8,1170.1 A37,37 0 0 1 1036.0,1190.8"/>
<path class="arc" d="M1100.3,1127.6 A56,56 0 0 1 1111.9,1210.0"/>
<path class="arc" d="M1074.2,1247.8 A74,74 0 0 1 1026.6,1234.6"/>
<path class="ln" d="M1040.6,1082 L1064.5,1103 L1054,1121 L1058.5,1138 L1064.5,1156 M1100.3,1127.6 L1109,1112 L1097,1083 M1109,1112 L1121,1094 M1109,1112 L1142,1113 M1105.8,1170.1 L1125,1177 L1143,1177 L1163,1163 M1143,1177 L1164,1191 M1111.9,1210 L1122,1225 M1051.7,1227.3 L1075,1248"/>
<path d="M1075,1248 L1063,1263 M1075,1248 L1090,1264" stroke="#C81010" stroke-width="2.5"/>
<g class="yn"><circle cx="1036" cy="1190.8" r="3"/><circle cx="1075" cy="1192" r="3.2"/><circle cx="1105.8" cy="1170.1" r="3"/><circle cx="1100.3" cy="1127.6" r="3"/><circle cx="1109" cy="1112" r="3"/><circle cx="1125" cy="1177" r="3"/><circle cx="1143" cy="1177" r="3"/><circle cx="1109" cy="1213" r="2.5"/><circle cx="1122" cy="1225" r="2.5"/><circle cx="1064.5" cy="1103" r="3"/><circle cx="1054" cy="1121" r="3"/><circle cx="1058.5" cy="1138" r="3"/><circle cx="1064.5" cy="1156" r="3"/></g>
<g class="rn"><circle cx="1015.2" cy="1158.6" r="3"/><circle cx="1014" cy="1184" r="3"/><circle cx="990" cy="1188" r="2.5"/><circle cx="970" cy="1191" r="2.5"/><circle cx="1051.7" cy="1227.3" r="3"/><circle cx="1075" cy="1248" r="3"/><circle cx="1063" cy="1263" r="2.8"/><circle cx="1090" cy="1264" r="2.8"/><circle cx="1097" cy="1083" r="2.8"/><circle cx="1121" cy="1094" r="2.8"/><circle cx="1163" cy="1163" r="2.8"/></g>
<g class="bn"><circle cx="1040.6" cy="1082" r="2.8"/><circle cx="1142" cy="1113" r="2.8"/><circle cx="1164" cy="1191" r="2.8"/></g>
<circle cx="1069" cy="1174" r="0.8" fill="#555"/>
</g>

<!-- ===================== Panel F LDA ===================== -->
<clipPath id="clipF"><rect x="-80" y="-20" width="78" height="250"/></clipPath>
<g transform="translate(1410,1022)">
<text x="179" y="-13" text-anchor="middle" class="n" font-weight="bold" font-size="15" textLength="179" lengthAdjust="spacingAndGlyphs">The current LDA threshold is 2.5</text>
<path class="gl" d="M44,-9V233M88,-9V233M132,-9V233M176,-9V233M220,-9V233M264,-9V233M308,-9V233M352,-9V233M396,-9V233"/>
<rect class="R" y="-6.25" width="385.4" height="12.5"/>
<rect class="R" y="9.39" width="385.4" height="12.5"/>
<rect class="R" y="25.03" width="371.4" height="12.5"/>
<rect class="R" y="40.67" width="361.7" height="12.5"/>
<rect class="R" y="56.31" width="338.8" height="12.5"/>
<rect class="R" y="71.95" width="337" height="12.5"/>
<rect class="R" y="87.59" width="327.4" height="12.5"/>
<rect class="R" y="103.23" width="322.1" height="12.5"/>
<rect class="R" y="118.87" width="319.4" height="12.5"/>
<rect class="R" y="134.51" width="304.5" height="12.5"/>
<rect class="B" y="150.15" width="293.9" height="12.5"/>
<rect class="B" y="165.79" width="293" height="12.5"/>
<rect class="B" y="181.43" width="270.2" height="12.5"/>
<rect class="B" y="197.07" width="268.4" height="12.5"/>
<rect class="B" y="212.71" width="265.8" height="12.5"/>
<path class="ax" d="M0,-9V235H396 M0,235v4M44,235v4M88,235v4M132,235v4M176,235v4M220,235v4M264,235v4M308,235v4M352,235v4M396,235v4"/>
<g class="n" font-size="9" fill="#222" text-anchor="end" clip-path="url(#clipF)">
<text x="-6" y="3.5">f__Lactobacillaceae</text>
<text x="-6" y="19.14">o__Lactobacillales</text>
<text x="-6" y="34.78">g__Limosilactobacillus</text>
<text x="-6" y="50.42">g__Faecalibacterium</text>
<text x="-6" y="66.06">g__Lactobacillus</text>
<text x="-6" y="81.7">o__RF39</text>
<text x="-6" y="97.34">o__Erysipelotrichales</text>
<text x="-6" y="112.98">f__Erysipelatoclostridiaceae</text>
<text x="-6" y="128.62">g__Erysipelatoclostridium</text>
<text x="-6" y="144.26">g__CHKCI001</text>
<text x="-6" y="159.9">g__Klebsiella</text>
<text x="-6" y="175.54">g__ASF356</text>
<text x="-6" y="191.18">f__Enterococcaceae</text>
<text x="-6" y="206.82">g__Enterococcus</text>
<text x="-6" y="222.46">g__Ruminococcus</text>
</g>
<g class="n" font-size="8" fill="#222" text-anchor="middle">
<text x="0" y="249">0</text><text x="44" y="249">0.5</text><text x="88" y="249">1</text><text x="132" y="249">1.5</text><text x="176" y="249">2</text><text x="220" y="249">2.5</text><text x="264" y="249">3</text><text x="308" y="249">3.5</text><text x="352" y="249">4</text><text x="396" y="249">4.5</text>
</g>
<text x="197" y="260" text-anchor="middle" class="n" font-weight="bold" font-size="10.5">LDA SCORE</text>
<rect x="408" y="-8" width="7" height="9" class="R"/><text x="416" y="0" class="n" font-size="9" fill="#222">LPS</text>
<rect x="408" y="6" width="7" height="9" class="B"/><text x="416" y="14" class="n" font-size="9" fill="#222" textLength="33" lengthAdjust="spacingAndGlyphs">EULE300</text>
</g>

<!-- ===================== Panel G heatmap ===================== -->
<text x="912" y="1395" text-anchor="middle" class="a" font-weight="bold" font-size="22" textLength="551" lengthAdjust="spacingAndGlyphs">Community heatmap analysis on Genus level</text>
<!-- column dendrogram -->
<path d="M302,1539V1410H596V1422 M459,1539V1422H733V1444 M616,1539V1444H850.5V1479 M773,1539V1479H928V1539" stroke="#333" stroke-width="1.3" fill="none"/>
<path d="M302,1410H596 M459,1422H733 M616,1444H850.5 M773,1479H928" stroke="#444" stroke-width="2.2" fill="none"/>
<!-- group bar -->
<rect x="224" y="1539" width="156.4" height="22" fill="#3A8E3E"/>
<rect x="380.4" y="1539" width="156.4" height="22" fill="#F2453A"/>
<rect x="536.8" y="1539" width="156.4" height="22" fill="#0A87D2"/>
<rect x="693.2" y="1539" width="156.4" height="22" fill="#FE9A0C"/>
<rect x="849.6" y="1539" width="156.4" height="22" fill="#727272"/>
<rect x="224" y="1562" width="782" height="2" fill="#e4e4e4"/>
<!-- row dendrogram -->
<path d="M195,1576.7H91V2194H188 M189,1592V2530 M189,1600H195 M192,1640V1700 M189,1900H195 M192,2380V2520" stroke="#222" stroke-width="1.2" fill="none"/>

<g transform="translate(0,1567)" class="a" font-size="16" fill="#111">
<g transform="translate(0,0)"><rect x="196" width="20" height="19.42" fill="#388E3C"/><rect class="c" x="224" width="156.4" height="19.42" fill="#FF0000"/><rect class="c" x="380.4" width="156.4" height="19.42" fill="#FF0000"/><rect class="c" x="536.8" width="156.4" height="19.42" fill="#FF0000"/><rect class="c" x="693.2" width="156.4" height="19.42" fill="#FF0000"/><rect class="c" x="849.6" width="156.4" height="19.42" fill="#FF0000"/><text x="1016" y="15.4">Bacteroides</text></g>
<g transform="translate(0,19.42)"><rect x="196" width="20" height="19.42" fill="#F44336"/><rect class="c" x="224" width="156.4" height="19.42" fill="#F87878"/><rect class="c" x="380.4" width="156.4" height="19.42" fill="#F87070"/><rect class="c" x="536.8" width="156.4" height="19.42" fill="#FAD2D2"/><rect class="c" x="693.2" width="156.4" height="19.42" fill="#F88080"/><rect class="c" x="849.6" width="156.4" height="19.42" fill="#FBE0E0"/><text x="1016" y="15.4">Anaerotruncus</text></g>
<g transform="translate(0,38.84)"><rect x="196" width="20" height="19.42" fill="#0288D1"/><rect class="c" x="224" width="156.4" height="19.42" fill="#F98C8C"/><rect class="c" x="380.4" width="156.4" height="19.42" fill="#F86060"/><rect class="c" x="536.8" width="156.4" height="19.42" fill="#FDF6F6"/><rect class="c" x="693.2" width="156.4" height="19.42" fill="#FBDADA"/><rect class="c" x="849.6" width="156.4" height="19.42" fill="#F9A4A4"/><text x="1016" y="15.4">Escherichia-Shigella</text></g>
<g transform="translate(0,58.26)"><rect x="196" width="20" height="19.42" fill="#FF9800"/><rect class="c" x="224" width="156.4" height="19.42" fill="#F9A0A0"/><rect class="c" x="380.4" width="156.4" height="19.42" fill="#F86262"/><rect class="c" x="536.8" width="156.4" height="19.42" fill="#FBDCDC"/><rect class="c" x="693.2" width="156.4" height="19.42" fill="#FAB4B4"/><rect class="c" x="849.6" width="156.4" height="19.42" fill="#FBD8D8"/><text x="1016" y="15.4">unclassified_f__Bacillaceae</text></g>
<g transform="translate(0,77.68)"><rect x="196" width="20" height="19.42" fill="#757575"/><rect class="c" x="224" width="156.4" height="19.42" fill="#F99090"/><rect class="c" x="380.4" width="156.4" height="19.42" fill="#C8C8F8"/><rect class="c" x="536.8" width="156.4" height="19.42" fill="#FBD6D6"/><rect class="c" x="693.2" width="156.4" height="19.42" fill="#FEF8F6"/><rect class="c" x="849.6" width="156.4" height="19.42" fill="#FBDEDE"/><text x="1016" y="15.4">Romboutsia</text></g>
<g transform="translate(0,97.1)"><rect x="196" width="20" height="19.42" fill="#F44336"/><rect class="c" x="224" width="156.4" height="19.42" fill="#FAC6C6"/><rect class="c" x="380.4" width="156.4" height="19.42" fill="#FAC0C0"/><rect class="c" x="536.8" width="156.4" height="19.42" fill="#FAD0D0"/><rect class="c" x="693.2" width="156.4" height="19.42" fill="#F9B4B4"/><rect class="c" x="849.6" width="156.4" height="19.42" fill="#FCE8E8"/><text x="1016" y="15.4">Anaerofilum</text></g>
<g transform="translate(0,116.52)"><rect x="196" width="20" height="19.42" fill="#E91E63"/><rect class="c" x="224" width="156.4" height="19.42" fill="#FACACA"/><rect class="c" x="380.4" width="156.4" height="19.42" fill="#FFFFFF"/><rect class="c" x="536.8" width="156.4" height="19.42" fill="#FCE0E0"/><rect class="c" x="693.2" width="156.4" height="19.42" fill="#F9A8A8"/><rect class="c" x="849.6" width="156.4" height="19.42" fill="#FBDCDC"/><text x="1016" y="15.4">Monoglobus</text></g>
<g transform="translate(0,135.94)"><rect x="196" width="20" height="19.42" fill="#F44336"/><rect class="c" x="224" width="156.4" height="19.42" fill="#FEFAFA"/><rect class="c" x="380.4" width="156.4" height="19.42" fill="#FEF4F4"/><rect class="c" x="536.8" width="156.4" height="19.42" fill="#FEF6F6"/><rect class="c" x="693.2" width="156.4" height="19.42" fill="#F9A8A8"/><rect class="c" x="849.6" width="156.4" height="19.42" fill="#F2F2FC"/><text x="1016" y="15.4">DTU089</text></g>
<g transform="translate(0,155.36)"><rect x="196" width="20" height="19.42" fill="#673AB7"/><rect class="c" x="224" width="156.4" height="19.42" fill="#FBD6D6"/><rect class="c" x="380.4" width="156.4" height="19.42" fill="#FBD4D4"/><rect class="c" x="536.8" width="156.4" height="19.42" fill="#F9B4B4"/><rect class="c" x="693.2" width="156.4" height="19.42" fill="#FBDEDE"/><rect class="c" x="849.6" width="156.4" height="19.42" fill="#F9C0C0"/><text x="1016" y="15.4">Sellimonas</text></g>
<g transform="translate(0,174.78)"><rect x="196" width="20" height="19.42" fill="#8BC34A"/><rect class="c" x="224" width="156.4" height="19.42" fill="#FCDEDE"/><rect class="c" x="380.4" width="156.4" height="19.42" fill="#FAC6C6"/><rect class="c" x="536.8" width="156.4" height="19.42" fill="#F9AEAE"/><rect class="c" x="693.2" width="156.4" height="19.42" fill="#F9B4B4"/><rect class="c" x="849.6" width="156.4" height="19.42" fill="#FCDEDE"/><text x="1016" y="15.4">Oscillibacter</text></g>
<g transform="translate(0,194.2)"><rect x="196" width="20" height="19.42" fill="#8BC34A"/><rect class="c" x="224" width="156.4" height="19.42" fill="#FFFFFF"/><rect class="c" x="380.4" width="156.4" height="19.42" fill="#FEFCFC"/><rect class="c" x="536.8" width="156.4" height="19.42" fill="#F9B0B0"/><rect class="c" x="693.2" width="156.4" height="19.42" fill="#F9B0B0"/><rect class="c" x="849.6" width="156.4" height="19.42" fill="#C4C4F8"/><text x="1016" y="15.4">NK4A214_group</text></g>
<g transform="translate(0,213.62)"><rect x="196" width="20" height="19.42" fill="#673AB7"/><rect class="c" x="224" width="156.4" height="19.42" fill="#F9B4B4"/><rect class="c" x="380.4" width="156.4" height="19.42" fill="#B0B0F8"/><rect class="c" x="536.8" width="156.4" height="19.42" fill="#FBD4D4"/><rect class="c" x="693.2" width="156.4" height="19.42" fill="#FCE4E4"/><rect class="c" x="849.6" width="156.4" height="19.42" fill="#E4E4FA"/><text x="1016" y="15.4">UC5-1-2E3</text></g>
<g transform="translate(0,233.04)"><rect x="196" width="20" height="19.42" fill="#2196F3"/><rect class="c" x="224" width="156.4" height="19.42" fill="#FAC4C4"/><rect class="c" x="380.4" width="156.4" height="19.42" fill="#ACACF8"/><rect class="c" x="536.8" width="156.4" height="19.42" fill="#C8C8F8"/><rect class="c" x="693.2" width="156.4" height="19.42" fill="#FAC4C4"/><rect class="c" x="849.6" width="156.4" height="19.42" fill="#5A5AF8"/><text x="1016" y="15.4">Ligilactobacillus</text></g>
<g transform="translate(0,252.46)"><rect x="196" width="20" height="19.42" fill="#673AB7"/><rect class="c" x="224" width="156.4" height="19.42" fill="#FAC4C4"/><rect class="c" x="380.4" width="156.4" height="19.42" fill="#8080F4"/><rect class="c" x="536.8" width="156.4" height="19.42" fill="#0000F0"/><rect class="c" x="693.2" width="156.4" height="19.42" fill="#B4B4F6"/><rect class="c" x="849.6" width="156.4" height="19.42" fill="#FCE0E0"/><text x="1016" y="15.4">CHKCI001</text></g>
<g transform="translate(0,271.88)"><rect x="196" width="20" height="19.42" fill="#673AB7"/><rect class="c" x="224" width="156.4" height="19.42" fill="#FFFFFF"/><rect class="c" x="380.4" width="156.4" height="19.42" fill="#D8D8F8"/><rect class="c" x="536.8" width="156.4" height="19.42" fill="#FBD8D8"/><rect class="c" x="693.2" width="156.4" height="19.42" fill="#FBD8D8"/><rect class="c" x="849.6" width="156.4" height="19.42" fill="#DCDCF8"/><text x="1016" y="15.4">Eisenbergiella</text></g>
<g transform="translate(0,291.3)"><rect x="196" width="20" height="19.42" fill="#F44336"/><rect class="c" x="224" width="156.4" height="19.42" fill="#ECECFA"/><rect class="c" x="380.4" width="156.4" height="19.42" fill="#EEEEFA"/><rect class="c" x="536.8" width="156.4" height="19.42" fill="#FCE8E8"/><rect class="c" x="693.2" width="156.4" height="19.42" fill="#FBDADA"/><rect class="c" x="849.6" width="156.4" height="19.42" fill="#0000EE"/><text x="1016" y="15.4">Ruminococcus</text></g>
<g transform="translate(0,310.72)"><rect x="196" width="20" height="19.42" fill="#D32F2F"/><rect class="c" x="224" width="156.4" height="19.42" fill="#FCE2E2"/><rect class="c" x="380.4" width="156.4" height="19.42" fill="#E6E6FA"/><rect class="c" x="536.8" width="156.4" height="19.42" fill="#FCE2E2"/><rect class="c" x="693.2" width="156.4" height="19.42" fill="#FFFFFF"/><rect class="c" x="849.6" width="156.4" height="19.42" fill="#FCE6E6"/><text x="1016" y="15.4">Holdemania</text></g>
<g transform="translate(0,330.14)"><rect x="196" width="20" height="19.42" fill="#F44336"/><rect class="c" x="224" width="156.4" height="19.42" fill="#E4E4F8"/><rect class="c" x="380.4" width="156.4" height="19.42" fill="#FEFAFA"/><rect class="c" x="536.8" width="156.4" height="19.42" fill="#E4E4F8"/><rect class="c" x="693.2" width="156.4" height="19.42" fill="#FEFCFC"/><rect class="c" x="849.6" width="156.4" height="19.42" fill="#FBD6D6"/><text x="1016" y="15.4">Candidatus_Soleaferrea</text></g>
<g transform="translate(0,349.56)"><rect x="196" width="20" height="19.42" fill="#673AB7"/><rect class="c" x="224" width="156.4" height="19.42" fill="#BEBEF8"/><rect class="c" x="380.4" width="156.4" height="19.42" fill="#FCE0E0"/><rect class="c" x="536.8" width="156.4" height="19.42" fill="#F2F2FC"/><rect class="c" x="693.2" width="156.4" height="19.42" fill="#FFFFFF"/><rect class="c" x="849.6" width="156.4" height="19.42" fill="#FFFFFF"/><text x="1016" y="15.4">Tuzzerella</text></g>
<g transform="translate(0,368.98)"><rect x="196" width="20" height="19.42" fill="#D32F2F"/><rect class="c" x="224" width="156.4" height="19.42" fill="#E6E6FA"/><rect class="c" x="380.4" width="156.4" height="19.42" fill="#FEF8F8"/><rect class="c" x="536.8" width="156.4" height="19.42" fill="#FEF2F2"/><rect class="c" x="693.2" width="156.4" height="19.42" fill="#FFFFFF"/><rect class="c" x="849.6" width="156.4" height="19.42" fill="#FFFFFF"/><text x="1016" y="15.4">unclassified_f__Erysipelotrichaceae</text></g>
<g transform="translate(0,388.4)"><rect x="196" width="20" height="19.42" fill="#FFC107"/><rect class="c" x="224" width="156.4" height="19.42" fill="#FDFDFE"/><rect class="c" x="380.4" width="156.4" height="19.42" fill="#E4E4FA"/><rect class="c" x="536.8" width="156.4" height="19.42" fill="#FEFCFC"/><rect class="c" x="693.2" width="156.4" height="19.42" fill="#FFFFFF"/><rect class="c" x="849.6" width="156.4" height="19.42" fill="#FEFBFB"/><text x="1016" y="15.4">Family_XIII_AD3011_group</text></g>
<g transform="translate(0,407.82)"><rect x="196" width="20" height="19.42" fill="#8BC34A"/><rect class="c" x="224" width="156.4" height="19.42" fill="#FBD8D8"/><rect class="c" x="380.4" width="156.4" height="19.42" fill="#FBDADA"/><rect class="c" x="536.8" width="156.4" height="19.42" fill="#FAD0D0"/><rect class="c" x="693.2" width="156.4" height="19.42" fill="#FAC8C8"/><rect class="c" x="849.6" width="156.4" height="19.42" fill="#FCE6E6"/><text x="1016" y="15.4">Intestinimonas</text></g>
<g transform="translate(0,427.24)"><rect x="196" width="20" height="19.42" fill="#673AB7"/><rect class="c" x="224" width="156.4" height="19.42" fill="#FCE2E2"/><rect class="c" x="380.4" width="156.4" height="19.42" fill="#FCE4E4"/><rect class="c" x="536.8" width="156.4" height="19.42" fill="#FAC0C0"/><rect class="c" x="693.2" width="156.4" height="19.42" fill="#EEEEFA"/><rect class="c" x="849.6" width="156.4" height="19.42" fill="#FCE6E6"/><text x="1016" y="15.4">Shuttleworthia</text></g>
<g transform="translate(0,446.66)"><rect x="196" width="20" height="19.42" fill="#673AB7"/><rect class="c" x="224" width="156.4" height="19.42" fill="#E4E4F8"/><rect class="c" x="380.4" width="156.4" height="19.42" fill="#FFFFFF"/><rect class="c" x="536.8" width="156.4" height="19.42" fill="#FAC0C0"/><rect class="c" x="693.2" width="156.4" height="19.42" fill="#FEF6F6"/><rect class="c" x="849.6" width="156.4" height="19.42" fill="#FEFAFA"/><text x="1016" y="15.4">[Eubacterium]_hallii_group</text></g>
<g transform="translate(0,466.08)"><rect x="196" width="20" height="19.42" fill="#F44336"/><rect class="c" x="224" width="156.4" height="19.42" fill="#FAC8C8"/><rect class="c" x="380.4" width="156.4" height="19.42" fill="#FAC4C4"/><rect class="c" x="536.8" width="156.4" height="19.42" fill="#FDF0F0"/><rect class="c" x="693.2" width="156.4" height="19.42" fill="#E0E0F8"/><rect class="c" x="849.6" width="156.4" height="19.42" fill="#FBDCDC"/><text x="1016" y="15.4">Paludicola</text></g>
<g transform="translate(0,485.5)"><rect x="196" width="20" height="19.42" fill="#673AB7"/><rect class="c" x="224" width="156.4" height="19.42" fill="#FDF0F0"/><rect class="c" x="380.4" width="156.4" height="19.42" fill="#F9B0B0"/><rect class="c" x="536.8" width="156.4" height="19.42" fill="#DCDCF8"/><rect class="c" x="693.2" width="156.4" height="19.42" fill="#F8F8FE"/><rect class="c" x="849.6" width="156.4" height="19.42" fill="#D0D0F8"/><text x="1016" y="15.4">ASF356</text></g>
<g transform="translate(0,504.92)"><rect x="196" width="20" height="19.42" fill="#673AB7"/><rect class="c" x="224" width="156.4" height="19.42" fill="#FAC4C4"/><rect class="c" x="380.4" width="156.4" height="19.42" fill="#FCE0E0"/><rect class="c" x="536.8" width="156.4" height="19.42" fill="#FAD0D0"/><rect class="c" x="693.2" width="156.4" height="19.42" fill="#F99494"/><rect class="c" x="849.6" width="156.4" height="19.42" fill="#FAC4C4"/><text x="1016" y="15.4">GCA-900066575</text></g>
<g transform="translate(0,524.34)"><rect x="196" width="20" height="19.42" fill="#F44336"/><rect class="c" x="224" width="156.4" height="19.42" fill="#F9BCBC"/><rect class="c" x="380.4" width="156.4" height="19.42" fill="#FAD0D0"/><rect class="c" x="536.8" width="156.4" height="19.42" fill="#F9B4B4"/><rect class="c" x="693.2" width="156.4" height="19.42" fill="#F9A4A4"/><rect class="c" x="849.6" width="156.4" height="19.42" fill="#FABEBE"/><text x="1016" y="15.4">Negativibacillus</text></g>
<g transform="translate(0,543.76)"><rect x="196" width="20" height="19.42" fill="#BDBDBD"/><rect class="c" x="224" width="156.4" height="19.42" fill="#FDF0F0"/><rect class="c" x="380.4" width="156.4" height="19.42" fill="#FCEAEA"/><rect class="c" x="536.8" width="156.4" height="19.42" fill="#F89090"/><rect class="c" x="693.2" width="156.4" height="19.42" fill="#FCE0E0"/><rect class="c" x="849.6" width="156.4" height="19.42" fill="#FBD0D0"/><text x="1016" y="15.4">unclassified_c__Clostridia</text></g>
<g transform="translate(0,563.18)"><rect x="196" width="20" height="19.42" fill="#673AB7"/><rect class="c" x="224" width="156.4" height="19.42" fill="#F9B0B0"/><rect class="c" x="380.4" width="156.4" height="19.42" fill="#F9B4B4"/><rect class="c" x="536.8" width="156.4" height="19.42" fill="#F88C8C"/><rect class="c" x="693.2" width="156.4" height="19.42" fill="#F9B0B0"/><rect class="c" x="849.6" width="156.4" height="19.42" fill="#F9B8B8"/><text x="1016" y="15.4">Blautia</text></g>
<g transform="translate(0,582.6)"><rect x="196" width="20" height="19.42" fill="#673AB7"/><rect class="c" x="224" width="156.4" height="19.42" fill="#F9BCBC"/><rect class="c" x="380.4" width="156.4" height="19.42" fill="#F9B0B0"/><rect class="c" x="536.8" width="156.4" height="19.42" fill="#F89090"/><rect class="c" x="693.2" width="156.4" height="19.42" fill="#F9A0A0"/><rect class="c" x="849.6" width="156.4" height="19.42" fill="#F9ACAC"/><text x="1016" y="15.4">Lachnoclostridium</text></g>
<g transform="translate(0,602.02)"><rect x="196" width="20" height="19.42" fill="#8BC34A"/><rect class="c" x="224" width="156.4" height="19.42" fill="#F99C9C"/><rect class="c" x="380.4" width="156.4" height="19.42" fill="#F9A4A4"/><rect class="c" x="536.8" width="156.4" height="19.42" fill="#F89494"/><rect class="c" x="693.2" width="156.4" height="19.42" fill="#F89090"/><rect class="c" x="849.6" width="156.4" height="19.42" fill="#F9B0B0"/><text x="1016" y="15.4">Colidextribacter</text></g>
<g transform="translate(0,621.44)"><rect x="196" width="20" height="19.42" fill="#8BC34A"/><rect class="c" x="224" width="156.4" height="19.42" fill="#F99898"/><rect class="c" x="380.4" width="156.4" height="19.42" fill="#F9BEBE"/><rect class="c" x="536.8" width="156.4" height="19.42" fill="#F9A4A4"/><rect class="c" x="693.2" width="156.4" height="19.42" fill="#F9B0B0"/><rect class="c" x="849.6" width="156.4" height="19.42" fill="#FAC8C8"/><text x="1016" y="15.4">Flavonifractor</text></g>
<g transform="translate(0,640.86)"><rect x="196" width="20" height="19.42" fill="#F8BBD0"/><rect class="c" x="224" width="156.4" height="19.42" fill="#F99C9C"/><rect class="c" x="380.4" width="156.4" height="19.42" fill="#F9B4B4"/><rect class="c" x="536.8" width="156.4" height="19.42" fill="#F88C8C"/><rect class="c" x="693.2" width="156.4" height="19.42" fill="#F9B4B4"/><rect class="c" x="849.6" width="156.4" height="19.42" fill="#F88888"/><text x="1016" y="15.4">Erysipelatoclostridium</text></g>
<g transform="translate(0,660.28)"><rect x="196" width="20" height="19.42" fill="#2196F3"/><rect class="c" x="224" width="156.4" height="19.42" fill="#F9A4A4"/><rect class="c" x="380.4" width="156.4" height="19.42" fill="#C8C8F8"/><rect class="c" x="536.8" width="156.4" height="19.42" fill="#F9B4B4"/><rect class="c" x="693.2" width="156.4" height="19.42" fill="#FDF0F0"/><rect class="c" x="849.6" width="156.4" height="19.42" fill="#F88888"/><text x="1016" y="15.4">Lactobacillus</text></g>
<g transform="translate(0,679.7)"><rect x="196" width="20" height="19.42" fill="#CDDC39"/><rect class="c" x="224" width="156.4" height="19.42" fill="#F9A4A4"/><rect class="c" x="380.4" width="156.4" height="19.42" fill="#F9B8B8"/><rect class="c" x="536.8" width="156.4" height="19.42" fill="#F9A0A0"/><rect class="c" x="693.2" width="156.4" height="19.42" fill="#F99C9C"/><rect class="c" x="849.6" width="156.4" height="19.42" fill="#F89494"/><text x="1016" y="15.4">unclassified_f__[Eubacterium]_coprostanoligenes_group</text></g>
<g transform="translate(0,699.12)"><rect x="196" width="20" height="19.42" fill="#673AB7"/><rect class="c" x="224" width="156.4" height="19.42" fill="#FAC8C8"/><rect class="c" x="380.4" width="156.4" height="19.42" fill="#FCE2E2"/><rect class="c" x="536.8" width="156.4" height="19.42" fill="#F9A8A8"/><rect class="c" x="693.2" width="156.4" height="19.42" fill="#FBD6D6"/><rect class="c" x="849.6" width="156.4" height="19.42" fill="#F9A0A0"/><text x="1016" y="15.4">Lachnospiraceae_NK4A136_group</text></g>
<g transform="translate(0,718.54)"><rect x="196" width="20" height="19.42" fill="#F44336"/><rect class="c" x="224" width="156.4" height="19.42" fill="#F87C7C"/><rect class="c" x="380.4" width="156.4" height="19.42" fill="#FAC4C4"/><rect class="c" x="536.8" width="156.4" height="19.42" fill="#F89494"/><rect class="c" x="693.2" width="156.4" height="19.42" fill="#F9A0A0"/><rect class="c" x="849.6" width="156.4" height="19.42" fill="#FAC0C0"/><text x="1016" y="15.4">Subdoligranulum</text></g>
<g transform="translate(0,737.96)"><rect x="196" width="20" height="19.42" fill="#F44336"/><rect class="c" x="224" width="156.4" height="19.42" fill="#F88484"/><rect class="c" x="380.4" width="156.4" height="19.42" fill="#F89898"/><rect class="c" x="536.8" width="156.4" height="19.42" fill="#FAD0D0"/><rect class="c" x="693.2" width="156.4" height="19.42" fill="#FAD0D0"/><rect class="c" x="849.6" width="156.4" height="19.42" fill="#F99C9C"/><text x="1016" y="15.4">Fournierella</text></g>
<g transform="translate(0,757.38)"><rect x="196" width="20" height="19.42" fill="#2196F3"/><rect class="c" x="224" width="156.4" height="19.42" fill="#F87878"/><rect class="c" x="380.4" width="156.4" height="19.42" fill="#E6E6FA"/><rect class="c" x="536.8" width="156.4" height="19.42" fill="#F86868"/><rect class="c" x="693.2" width="156.4" height="19.42" fill="#F86C6C"/><rect class="c" x="849.6" width="156.4" height="19.42" fill="#F86060"/><text x="1016" y="15.4">Limosilactobacillus</text></g>
<g transform="translate(0,776.8)"><rect x="196" width="20" height="19.42" fill="#F44336"/><rect class="c" x="224" width="156.4" height="19.42" fill="#F9A8A8"/><rect class="c" x="380.4" width="156.4" height="19.42" fill="#FCDEDE"/><rect class="c" x="536.8" width="156.4" height="19.42" fill="#5858F8"/><rect class="c" x="693.2" width="156.4" height="19.42" fill="#F88888"/><rect class="c" x="849.6" width="156.4" height="19.42" fill="#F86A6A"/><text x="1016" y="15.4">Faecalibacterium</text></g>
<g transform="translate(0,796.22)"><rect x="196" width="20" height="19.42" fill="#009688"/><rect class="c" x="224" width="156.4" height="19.42" fill="#F87070"/><rect class="c" x="380.4" width="156.4" height="19.42" fill="#F88080"/><rect class="c" x="536.8" width="156.4" height="19.42" fill="#F88484"/><rect class="c" x="693.2" width="156.4" height="19.42" fill="#F86868"/><rect class="c" x="849.6" width="156.4" height="19.42" fill="#F87070"/><text x="1016" y="15.4">Butyricicoccus</text></g>
<g transform="translate(0,815.64)"><rect x="196" width="20" height="19.42" fill="#8BC34A"/><rect class="c" x="224" width="156.4" height="19.42" fill="#F88080"/><rect class="c" x="380.4" width="156.4" height="19.42" fill="#F87C7C"/><rect class="c" x="536.8" width="156.4" height="19.42" fill="#F9A4A4"/><rect class="c" x="693.2" width="156.4" height="19.42" fill="#F88080"/><rect class="c" x="849.6" width="156.4" height="19.42" fill="#F87474"/><text x="1016" y="15.4">UCG-005</text></g>
<g transform="translate(0,835.06)"><rect x="196" width="20" height="19.42" fill="#C2185B"/><rect class="c" x="224" width="156.4" height="19.42" fill="#F88888"/><rect class="c" x="380.4" width="156.4" height="19.42" fill="#F89494"/><rect class="c" x="536.8" width="156.4" height="19.42" fill="#F88888"/><rect class="c" x="693.2" width="156.4" height="19.42" fill="#F9ACAC"/><rect class="c" x="849.6" width="156.4" height="19.42" fill="#F87070"/><text x="1016" y="15.4">unclassified_o__RF39</text></g>
<g transform="translate(0,854.48)"><rect x="196" width="20" height="19.42" fill="#FFEB3B"/><rect class="c" x="224" width="156.4" height="19.42" fill="#F84444"/><rect class="c" x="380.4" width="156.4" height="19.42" fill="#F86060"/><rect class="c" x="536.8" width="156.4" height="19.42" fill="#F85C5C"/><rect class="c" x="693.2" width="156.4" height="19.42" fill="#F85C5C"/><rect class="c" x="849.6" width="156.4" height="19.42" fill="#F85858"/><text x="1016" y="15.4">unclassified_o__Clostridia_UCG-014</text></g>
<g transform="translate(0,873.9)"><rect x="196" width="20" height="19.42" fill="#F44336"/><rect class="c" x="224" width="156.4" height="19.42" fill="#F86060"/><rect class="c" x="380.4" width="156.4" height="19.42" fill="#F87474"/><rect class="c" x="536.8" width="156.4" height="19.42" fill="#F87C7C"/><rect class="c" x="693.2" width="156.4" height="19.42" fill="#F86060"/><rect class="c" x="849.6" width="156.4" height="19.42" fill="#F87474"/><text x="1016" y="15.4">unclassified_f__Ruminococcaceae</text></g>
<g transform="translate(0,893.32)"><rect x="196" width="20" height="19.42" fill="#8BC34A"/><rect class="c" x="224" width="156.4" height="19.42" fill="#F86464"/><rect class="c" x="380.4" width="156.4" height="19.42" fill="#F85C5C"/><rect class="c" x="536.8" width="156.4" height="19.42" fill="#F86464"/><rect class="c" x="693.2" width="156.4" height="19.42" fill="#F87C7C"/><rect class="c" x="849.6" width="156.4" height="19.42" fill="#F86868"/><text x="1016" y="15.4">unclassified_f__Oscillospiraceae</text></g>
<g transform="translate(0,912.74)"><rect x="196" width="20" height="19.42" fill="#212121"/><rect class="c" x="224" width="156.4" height="19.42" fill="#F86C6C"/><rect class="c" x="380.4" width="156.4" height="19.42" fill="#F87878"/><rect class="c" x="536.8" width="156.4" height="19.42" fill="#F86060"/><rect class="c" x="693.2" width="156.4" height="19.42" fill="#F87474"/><rect class="c" x="849.6" width="156.4" height="19.42" fill="#F87070"/><text x="1016" y="15.4">unclassified_o__Clostridia_vadinBB60_group</text></g>
<g transform="translate(0,932.16)"><rect x="196" width="20" height="19.42" fill="#673AB7"/><rect class="c" x="224" width="156.4" height="19.42" fill="#F85858"/><rect class="c" x="380.4" width="156.4" height="19.42" fill="#F85858"/><rect class="c" x="536.8" width="156.4" height="19.42" fill="#F84848"/><rect class="c" x="693.2" width="156.4" height="19.42" fill="#F85454"/><rect class="c" x="849.6" width="156.4" height="19.42" fill="#F86464"/><text x="1016" y="15.4">[Ruminococcus]_torques_group</text></g>
<g transform="translate(0,951.58)"><rect x="196" width="20" height="19.42" fill="#673AB7"/><rect class="c" x="224" width="156.4" height="19.42" fill="#F86060"/><rect class="c" x="380.4" width="156.4" height="19.42" fill="#F87474"/><rect class="c" x="536.8" width="156.4" height="19.42" fill="#F85050"/><rect class="c" x="693.2" width="156.4" height="19.42" fill="#F85454"/><rect class="c" x="849.6" width="156.4" height="19.42" fill="#F86060"/><text x="1016" y="15.4">unclassified_f__Lachnospiraceae</text></g>
</g>

<!-- heatmap x labels -->
<g class="a" font-size="16" fill="#222" text-anchor="end">
<text transform="translate(306,2552) rotate(-45)">CON</text>
<text transform="translate(462,2552) rotate(-45)">EULE300</text>
<text transform="translate(619,2552) rotate(-45)">EULE100</text>
<text transform="translate(775,2552) rotate(-45)">EULE200</text>
<text transform="translate(932,2552) rotate(-45)">LPS</text>
</g>

<!-- Abundance legend -->
<defs>
<linearGradient id="abund" x1="0" y1="0" x2="0" y2="1">
<stop offset="0" stop-color="#FF0000"/>
<stop offset="0.48" stop-color="#FFFFFF"/>
<stop offset="1" stop-color="#0000FF"/>
</linearGradient>
</defs>
<g class="a" fill="#111">
<text x="1371" y="1402" font-weight="bold" font-size="15" letter-spacing="0.6">Abundance</text>
<rect x="1377" y="1416" width="29" height="139" fill="url(#abund)"/>
<path d="M1406,1416h4M1406,1443.5h4M1406,1471h4M1406,1498.5h4M1406,1527h4M1406,1555h4" stroke="#555" stroke-width="1"/>
<g font-size="15" letter-spacing="0.6">
<text x="1414" y="1420">2e+4</text>
<text x="1414" y="1448">1e+3</text>
<text x="1414" y="1476">10e+1</text>
<text x="1414" y="1503">7e+0</text>
<text x="1414" y="1532">4e-1</text>
<text x="1414" y="1560">3e-2</text>
</g>
<text x="1520" y="1402" font-weight="bold" font-size="15" letter-spacing="0.6">Group</text>
<g font-size="15" letter-spacing="0.6">
<rect x="1519" y="1415" width="16" height="16" fill="#3A8E3E"/><text x="1539" y="1428">CON</text>
<rect x="1519" y="1443" width="16" height="16" fill="#F2453A"/><text x="1539" y="1456">EULE300</text>
<rect x="1519" y="1471" width="16" height="16" fill="#0A87D2"/><text x="1539" y="1484">EULE100</text>
<rect x="1519" y="1499" width="16" height="16" fill="#FE9A0C"/><text x="1539" y="1512">EULE200</text>
<rect x="1519" y="1527" width="16" height="16" fill="#727272"/><text x="1539" y="1540">LPS</text>
</g>
<text x="1378" y="1629" font-weight="bold" font-size="15" letter-spacing="0.6">Taxonomy</text>
<g font-size="15" letter-spacing="0.45">
<rect x="1376" y="1642.5" width="16.5" height="15" fill="#388E3C"/><text x="1396" y="1655">Bacteroidaceae</text>
<rect x="1376" y="1670.3" width="16.5" height="15" fill="#F44336"/><text x="1396" y="1682.8">Ruminococcaceae</text>
<rect x="1376" y="1698.1" width="16.5" height="15" fill="#0288D1"/><text x="1396" y="1710.6">Enterobacteriaceae</text>
<rect x="1376" y="1725.9" width="16.5" height="15" fill="#FF9800"/><text x="1396" y="1738.4">Bacillaceae</text>
<rect x="1376" y="1753.7" width="16.5" height="15" fill="#757575"/><text x="1396" y="1766.2">Peptostreptococcaceae</text>
<rect x="1376" y="1781.5" width="16.5" height="15" fill="#E91E63"/><text x="1396" y="1794">Monoglobaceae</text>
<rect x="1376" y="1809.3" width="16.5" height="15" fill="#673AB7"/><text x="1396" y="1821.8">Lachnospiraceae</text>
<rect x="1376" y="1837.1" width="16.5" height="15" fill="#8BC34A"/><text x="1396" y="1849.6">Oscillospiraceae</text>
<rect x="1376" y="1864.9" width="16.5" height="15" fill="#2196F3"/><text x="1396" y="1877.4">Lactobacillaceae</text>
<rect x="1376" y="1892.7" width="16.5" height="15" fill="#D32F2F"/><text x="1396" y="1905.2">Erysipelotrichaceae</text>
<rect x="1376" y="1920.5" width="16.5" height="15" fill="#FFC107"/><text x="1396" y="1933">Anaerovoracaceae</text>
<rect x="1376" y="1948.3" width="16.5" height="15" fill="#BDBDBD"/><text x="1396" y="1960.8">unclassified_c__Clostridia</text>
<rect x="1376" y="1976.1" width="16.5" height="15" fill="#F8BBD0"/><text x="1396" y="1988.6">Erysipelatoclostridiaceae</text>
<rect x="1376" y="2003.9" width="16.5" height="15" fill="#CDDC39"/><text x="1396" y="2016.4">[Eubacterium]_coprostanoligenes_group</text>
<rect x="1376" y="2031.7" width="16.5" height="15" fill="#009688"/><text x="1396" y="2044.2">Butyricicoccaceae</text>
<rect x="1376" y="2059.5" width="16.5" height="15" fill="#C2185B"/><text x="1396" y="2072">unclassified_o__RF39</text>
<rect x="1376" y="2087.3" width="16.5" height="15" fill="#FFEB3B"/><text x="1396" y="2099.8">unclassified_o__Clostridia_UCG-014</text>
<rect x="1376" y="2115.1" width="16.5" height="15" fill="#212121"/><text x="1396" y="2127.6">unclassified_o__Clostridia_vadinBB60_group</text>
</g>
</g>
</svg>
</body></html>
